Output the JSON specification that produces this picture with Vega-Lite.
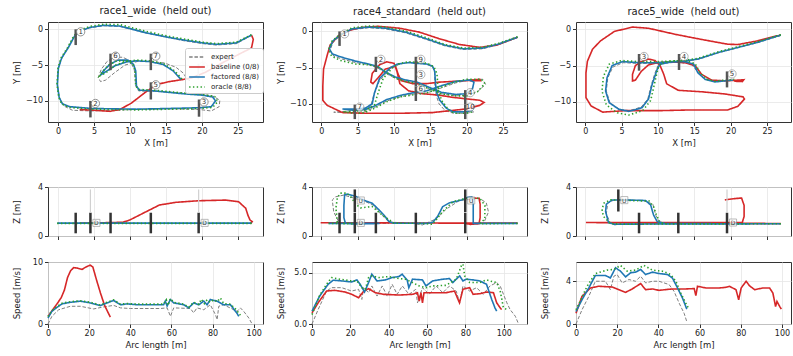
{
"$schema":"https://vega.github.io/schema/vega-lite/v6.json",
"padding":{"left":11,"top":5,"right":4,"bottom":4},
"config":{"font":"DejaVu Sans","view":{"stroke":"#333","strokeWidth":1},
"axis":{"domain":false,"grid":true,"gridColor":"#e6e6e6","gridWidth":0.8,"tickColor":"#333","tickSize":3.5,"labelFontSize":8,"labelColor":"#222","titleFontSize":8.5,"titleFontWeight":"normal","titleColor":"#222","labelFlush":false,"labelPadding":2,"titlePadding":3},
"axisY":{"minExtent":24,"maxExtent":24},
"title":{"fontSize":10,"fontWeight":"normal","offset":5,"color":"#222"},
"legend":{"labelFontSize":7,"symbolSize":110,"symbolOffset":3,"labelOffset":8,"symbolStrokeWidth":1.5,"rowPadding":1,"padding":3,"fillColor":"rgba(255,255,255,0.85)","strokeColor":"#cccccc","cornerRadius":2,"labelLimit":200,"labelColor":"#222"}},
"datasets":{
"xy":[
{"r":"race1","m":"expert","i":1,"x":26.9,"y":-0.85},{"r":"race1","m":"expert","i":2,"x":24.8,"y":-2.0},{"r":"race1","m":"expert","i":3,"x":22,"y":-2.2},{"r":"race1","m":"expert","i":4,"x":20.1,"y":-2.0},{"r":"race1","m":"expert","i":5,"x":17.5,"y":-1.6},{"r":"race1","m":"expert","i":6,"x":15.5,"y":-1.2},{"r":"race1","m":"expert","i":7,"x":12.3,"y":-0.55},{"r":"race1","m":"expert","i":8,"x":10,"y":0.05},{"r":"race1","m":"expert","i":9,"x":8.6,"y":0.4},{"r":"race1","m":"expert","i":10,"x":6.3,"y":0.5},{"r":"race1","m":"expert","i":11,"x":4.4,"y":0.2},{"r":"race1","m":"expert","i":12,"x":3.0,"y":-0.35},{"r":"race1","m":"expert","i":13,"x":2.2,"y":-1.1},{"r":"race1","m":"expert","i":14,"x":1.2,"y":-2.8},{"r":"race1","m":"expert","i":15,"x":0.4,"y":-4.3},{"r":"race1","m":"expert","i":16,"x":0.0,"y":-5.6},{"r":"race1","m":"expert","i":17,"x":-0.1,"y":-7.8},{"r":"race1","m":"expert","i":18,"x":0.2,"y":-9.6},{"r":"race1","m":"expert","i":19,"x":0.8,"y":-10.7},{"r":"race1","m":"expert","i":20,"x":2.0,"y":-11.3},{"r":"race1","m":"expert","i":21,"x":4.6,"y":-11.4},{"r":"race1","m":"expert","i":22,"x":7.5,"y":-11.3},{"r":"race1","m":"expert","i":23,"x":10.9,"y":-11.2},{"r":"race1","m":"expert","i":24,"x":15.5,"y":-11.1},{"r":"race1","m":"expert","i":25,"x":19.7,"y":-11.2},{"r":"race1","m":"expert","i":26,"x":21.3,"y":-11.4},{"r":"race1","m":"expert","i":27,"x":22.4,"y":-10.8},{"r":"race1","m":"expert","i":28,"x":22.5,"y":-9.9},{"r":"race1","m":"expert","i":29,"x":21.5,"y":-9.3},{"r":"race1","m":"expert","i":30,"x":20.1,"y":-9.1},{"r":"race1","m":"expert","i":31,"x":17.4,"y":-8.9},{"r":"race1","m":"expert","i":32,"x":13.4,"y":-8.65},{"r":"race1","m":"expert","i":33,"x":11.2,"y":-8.6},{"r":"race1","m":"expert","i":34,"x":10.8,"y":-7.9},{"r":"race1","m":"expert","i":35,"x":10.6,"y":-5.6},{"r":"race1","m":"expert","i":36,"x":10.0,"y":-4.4},{"r":"race1","m":"expert","i":37,"x":9.0,"y":-3.9},{"r":"race1","m":"expert","i":38,"x":7.8,"y":-3.9},{"r":"race1","m":"expert","i":39,"x":6.8,"y":-4.5},{"r":"race1","m":"expert","i":40,"x":6.0,"y":-5.6},{"r":"race1","m":"expert","i":41,"x":5.6,"y":-6.7},{"r":"race1","m":"expert","i":42,"x":5.9,"y":-7.3},{"r":"race1","m":"expert","i":43,"x":6.6,"y":-7.1},{"r":"race1","m":"expert","i":44,"x":7.8,"y":-6.1},{"r":"race1","m":"expert","i":45,"x":9.3,"y":-5.0},{"r":"race1","m":"expert","i":46,"x":11.0,"y":-4.5},{"r":"race1","m":"expert","i":47,"x":12.8,"y":-4.5},{"r":"race1","m":"expert","i":48,"x":14.8,"y":-4.7},{"r":"race1","m":"expert","i":49,"x":16.4,"y":-5.3},{"r":"race1","m":"expert","i":50,"x":17.4,"y":-6.1},{"r":"race1","m":"expert","i":51,"x":17.9,"y":-6.9},{"r":"race1","m":"expert","i":52,"x":18.5,"y":-7.3},
{"r":"race1","m":"baseline (0/8)","i":1,"x":26.9,"y":-0.8},{"r":"race1","m":"baseline (0/8)","i":2,"x":27.15,"y":-1.4},{"r":"race1","m":"baseline (0/8)","i":3,"x":26.9,"y":-2.6},{"r":"race1","m":"baseline (0/8)","i":4,"x":25.5,"y":-3.3},{"r":"race1","m":"baseline (0/8)","i":5,"x":23,"y":-4.6},{"r":"race1","m":"baseline (0/8)","i":6,"x":20.5,"y":-6.0},{"r":"race1","m":"baseline (0/8)","i":7,"x":18.5,"y":-6.8},{"r":"race1","m":"baseline (0/8)","i":8,"x":17.4,"y":-7.0},{"r":"race1","m":"baseline (0/8)","i":9,"x":15.5,"y":-7.3},{"r":"race1","m":"baseline (0/8)","i":10,"x":13.7,"y":-7.7},{"r":"race1","m":"baseline (0/8)","i":11,"x":12.0,"y":-8.9},{"r":"race1","m":"baseline (0/8)","i":12,"x":10.2,"y":-10.3},{"r":"race1","m":"baseline (0/8)","i":13,"x":8.6,"y":-11.2},{"r":"race1","m":"baseline (0/8)","i":14,"x":7.2,"y":-11.45},{"r":"race1","m":"baseline (0/8)","i":15,"x":5.0,"y":-11.3},{"r":"race1","m":"baseline (0/8)","i":16,"x":3.0,"y":-11.2},
{"r":"race1","m":"factored (8/8)","i":1,"x":26.9,"y":-0.8},{"r":"race1","m":"factored (8/8)","i":2,"x":24.8,"y":-1.9},{"r":"race1","m":"factored (8/8)","i":3,"x":22.0,"y":-2.1},{"r":"race1","m":"factored (8/8)","i":4,"x":20.1,"y":-1.9},{"r":"race1","m":"factored (8/8)","i":5,"x":17.5,"y":-1.5},{"r":"race1","m":"factored (8/8)","i":6,"x":15.5,"y":-1.15},{"r":"race1","m":"factored (8/8)","i":7,"x":12.3,"y":-0.5},{"r":"race1","m":"factored (8/8)","i":8,"x":10.0,"y":0.1},{"r":"race1","m":"factored (8/8)","i":9,"x":8.6,"y":0.45},{"r":"race1","m":"factored (8/8)","i":10,"x":6.3,"y":0.55},{"r":"race1","m":"factored (8/8)","i":11,"x":4.4,"y":0.25},{"r":"race1","m":"factored (8/8)","i":12,"x":3.0,"y":-0.25},{"r":"race1","m":"factored (8/8)","i":13,"x":2.3,"y":-0.95},{"r":"race1","m":"factored (8/8)","i":14,"x":1.4,"y":-2.6},{"r":"race1","m":"factored (8/8)","i":15,"x":0.5,"y":-4.0},{"r":"race1","m":"factored (8/8)","i":16,"x":0.05,"y":-5.4},{"r":"race1","m":"factored (8/8)","i":17,"x":-0.1,"y":-7.7},{"r":"race1","m":"factored (8/8)","i":18,"x":0.15,"y":-9.5},{"r":"race1","m":"factored (8/8)","i":19,"x":0.6,"y":-10.4},{"r":"race1","m":"factored (8/8)","i":20,"x":1.6,"y":-10.8},{"r":"race1","m":"factored (8/8)","i":21,"x":4.6,"y":-11.05},{"r":"race1","m":"factored (8/8)","i":22,"x":7.5,"y":-11.1},{"r":"race1","m":"factored (8/8)","i":23,"x":10.9,"y":-11.15},{"r":"race1","m":"factored (8/8)","i":24,"x":15.5,"y":-11.05},{"r":"race1","m":"factored (8/8)","i":25,"x":19.7,"y":-10.95},{"r":"race1","m":"factored (8/8)","i":26,"x":21.3,"y":-10.8},{"r":"race1","m":"factored (8/8)","i":27,"x":21.9,"y":-10.0},{"r":"race1","m":"factored (8/8)","i":28,"x":21.5,"y":-9.45},{"r":"race1","m":"factored (8/8)","i":29,"x":20.1,"y":-9.2},{"r":"race1","m":"factored (8/8)","i":30,"x":17.4,"y":-9.0},{"r":"race1","m":"factored (8/8)","i":31,"x":13.4,"y":-8.6},{"r":"race1","m":"factored (8/8)","i":32,"x":11.3,"y":-8.5},{"r":"race1","m":"factored (8/8)","i":33,"x":10.9,"y":-7.9},{"r":"race1","m":"factored (8/8)","i":34,"x":10.8,"y":-5.8},{"r":"race1","m":"factored (8/8)","i":35,"x":10.5,"y":-4.9},{"r":"race1","m":"factored (8/8)","i":36,"x":9.7,"y":-4.3},{"r":"race1","m":"factored (8/8)","i":37,"x":8.3,"y":-4.3},{"r":"race1","m":"factored (8/8)","i":38,"x":7.2,"y":-4.9},{"r":"race1","m":"factored (8/8)","i":39,"x":6.3,"y":-5.8},{"r":"race1","m":"factored (8/8)","i":40,"x":5.9,"y":-6.4},{"r":"race1","m":"factored (8/8)","i":41,"x":6.5,"y":-6.0},{"r":"race1","m":"factored (8/8)","i":42,"x":7.9,"y":-5.1},{"r":"race1","m":"factored (8/8)","i":43,"x":9.5,"y":-4.55},{"r":"race1","m":"factored (8/8)","i":44,"x":10.9,"y":-4.4},{"r":"race1","m":"factored (8/8)","i":45,"x":12.7,"y":-4.5},{"r":"race1","m":"factored (8/8)","i":46,"x":14.6,"y":-4.9},{"r":"race1","m":"factored (8/8)","i":47,"x":16.0,"y":-5.8},{"r":"race1","m":"factored (8/8)","i":48,"x":17.1,"y":-7.0},
{"r":"race1","m":"oracle (8/8)","i":1,"x":26.9,"y":-0.75},{"r":"race1","m":"oracle (8/8)","i":2,"x":24.8,"y":-1.8},{"r":"race1","m":"oracle (8/8)","i":3,"x":22,"y":-2.0},{"r":"race1","m":"oracle (8/8)","i":4,"x":20.1,"y":-1.8},{"r":"race1","m":"oracle (8/8)","i":5,"x":17.5,"y":-1.35},{"r":"race1","m":"oracle (8/8)","i":6,"x":15.5,"y":-1.0},{"r":"race1","m":"oracle (8/8)","i":7,"x":12.3,"y":-0.3},{"r":"race1","m":"oracle (8/8)","i":8,"x":10,"y":0.3},{"r":"race1","m":"oracle (8/8)","i":9,"x":8.6,"y":0.65},{"r":"race1","m":"oracle (8/8)","i":10,"x":6.3,"y":0.7},{"r":"race1","m":"oracle (8/8)","i":11,"x":4.4,"y":0.4},{"r":"race1","m":"oracle (8/8)","i":12,"x":3.0,"y":-0.1},{"r":"race1","m":"oracle (8/8)","i":13,"x":2.2,"y":-0.9},{"r":"race1","m":"oracle (8/8)","i":14,"x":1.3,"y":-2.6},{"r":"race1","m":"oracle (8/8)","i":15,"x":0.4,"y":-4.0},{"r":"race1","m":"oracle (8/8)","i":16,"x":0.0,"y":-5.4},{"r":"race1","m":"oracle (8/8)","i":17,"x":-0.15,"y":-7.7},{"r":"race1","m":"oracle (8/8)","i":18,"x":0.1,"y":-9.5},{"r":"race1","m":"oracle (8/8)","i":19,"x":0.5,"y":-10.4},{"r":"race1","m":"oracle (8/8)","i":20,"x":1.5,"y":-10.9},{"r":"race1","m":"oracle (8/8)","i":21,"x":4.6,"y":-11.15},{"r":"race1","m":"oracle (8/8)","i":22,"x":7.5,"y":-11.2},{"r":"race1","m":"oracle (8/8)","i":23,"x":10.9,"y":-11.25},{"r":"race1","m":"oracle (8/8)","i":24,"x":15.5,"y":-11.15},{"r":"race1","m":"oracle (8/8)","i":25,"x":19.7,"y":-11.05},{"r":"race1","m":"oracle (8/8)","i":26,"x":21.5,"y":-10.9},{"r":"race1","m":"oracle (8/8)","i":27,"x":22.2,"y":-10.1},{"r":"race1","m":"oracle (8/8)","i":28,"x":21.8,"y":-9.4},{"r":"race1","m":"oracle (8/8)","i":29,"x":20.1,"y":-9.1},{"r":"race1","m":"oracle (8/8)","i":30,"x":17.4,"y":-8.9},{"r":"race1","m":"oracle (8/8)","i":31,"x":13.4,"y":-8.5},{"r":"race1","m":"oracle (8/8)","i":32,"x":11.2,"y":-8.4},{"r":"race1","m":"oracle (8/8)","i":33,"x":10.8,"y":-7.9},{"r":"race1","m":"oracle (8/8)","i":34,"x":10.7,"y":-5.8},{"r":"race1","m":"oracle (8/8)","i":35,"x":10.4,"y":-4.8},{"r":"race1","m":"oracle (8/8)","i":36,"x":9.6,"y":-4.4},{"r":"race1","m":"oracle (8/8)","i":37,"x":8.2,"y":-4.4},{"r":"race1","m":"oracle (8/8)","i":38,"x":7.0,"y":-5.0},{"r":"race1","m":"oracle (8/8)","i":39,"x":6.2,"y":-5.9},{"r":"race1","m":"oracle (8/8)","i":40,"x":5.8,"y":-6.5},{"r":"race1","m":"oracle (8/8)","i":41,"x":6.6,"y":-6.1},{"r":"race1","m":"oracle (8/8)","i":42,"x":8.0,"y":-5.0},{"r":"race1","m":"oracle (8/8)","i":43,"x":9.6,"y":-4.45},{"r":"race1","m":"oracle (8/8)","i":44,"x":11.0,"y":-4.3},{"r":"race1","m":"oracle (8/8)","i":45,"x":12.8,"y":-4.4},{"r":"race1","m":"oracle (8/8)","i":46,"x":14.7,"y":-4.8},{"r":"race1","m":"oracle (8/8)","i":47,"x":16.2,"y":-5.8},{"r":"race1","m":"oracle (8/8)","i":48,"x":17.3,"y":-7.0},
{"r":"race4","m":"expert","i":1,"x":27,"y":-0.85},{"r":"race4","m":"expert","i":2,"x":24.5,"y":-1.8},{"r":"race4","m":"expert","i":3,"x":22.2,"y":-2.4},{"r":"race4","m":"expert","i":4,"x":19.5,"y":-2.5},{"r":"race4","m":"expert","i":5,"x":17,"y":-2.0},{"r":"race4","m":"expert","i":6,"x":14.4,"y":-1.1},{"r":"race4","m":"expert","i":7,"x":11.6,"y":-0.2},{"r":"race4","m":"expert","i":8,"x":8.8,"y":0.35},{"r":"race4","m":"expert","i":9,"x":6.5,"y":0.5},{"r":"race4","m":"expert","i":10,"x":4.2,"y":0.25},{"r":"race4","m":"expert","i":11,"x":2.6,"y":-0.6},{"r":"race4","m":"expert","i":12,"x":1.6,"y":-1.5},{"r":"race4","m":"expert","i":13,"x":1.2,"y":-2.6},{"r":"race4","m":"expert","i":14,"x":1.7,"y":-3.4},{"r":"race4","m":"expert","i":15,"x":2.8,"y":-3.8},{"r":"race4","m":"expert","i":16,"x":4.7,"y":-4.3},{"r":"race4","m":"expert","i":17,"x":6.5,"y":-4.6},{"r":"race4","m":"expert","i":18,"x":7.7,"y":-5.0},{"r":"race4","m":"expert","i":19,"x":8.9,"y":-5.8},{"r":"race4","m":"expert","i":20,"x":10.2,"y":-6.5},{"r":"race4","m":"expert","i":21,"x":11.6,"y":-6.9},{"r":"race4","m":"expert","i":22,"x":13.2,"y":-7.2},{"r":"race4","m":"expert","i":23,"x":14.8,"y":-7.9},{"r":"race4","m":"expert","i":24,"x":16.5,"y":-8.6},{"r":"race4","m":"expert","i":25,"x":18.5,"y":-8.9},{"r":"race4","m":"expert","i":26,"x":19.9,"y":-8.8},{"r":"race4","m":"expert","i":27,"x":21.5,"y":-8.3},{"r":"race4","m":"expert","i":28,"x":22.6,"y":-7.3},{"r":"race4","m":"expert","i":29,"x":22.2,"y":-6.6},{"r":"race4","m":"expert","i":30,"x":20.3,"y":-6.7},{"r":"race4","m":"expert","i":31,"x":18.5,"y":-7.1},{"r":"race4","m":"expert","i":32,"x":16.5,"y":-7.8},{"r":"race4","m":"expert","i":33,"x":14.5,"y":-8.5},{"r":"race4","m":"expert","i":34,"x":13.0,"y":-8.6},{"r":"race4","m":"expert","i":35,"x":11,"y":-9.0},{"r":"race4","m":"expert","i":36,"x":9,"y":-9.6},{"r":"race4","m":"expert","i":37,"x":7.3,"y":-10.5},{"r":"race4","m":"expert","i":38,"x":5.5,"y":-11.3},{"r":"race4","m":"expert","i":39,"x":3.5,"y":-11.2},{"r":"race4","m":"expert","i":40,"x":1.7,"y":-11.15},{"r":"race4","m":"expert","i":41,"x":3.5,"y":-11.0},{"r":"race4","m":"expert","i":42,"x":5.5,"y":-10.9},{"r":"race4","m":"expert","i":43,"x":6.8,"y":-10.3},{"r":"race4","m":"expert","i":44,"x":7.2,"y":-8.8},{"r":"race4","m":"expert","i":45,"x":8.0,"y":-6.8},{"r":"race4","m":"expert","i":46,"x":9.4,"y":-5.2},{"r":"race4","m":"expert","i":47,"x":10.8,"y":-4.5},{"r":"race4","m":"expert","i":48,"x":12.2,"y":-4.25},{"r":"race4","m":"expert","i":49,"x":13.2,"y":-4.3},{"r":"race4","m":"expert","i":50,"x":14.5,"y":-4.5},{"r":"race4","m":"expert","i":51,"x":15.4,"y":-5.0},{"r":"race4","m":"expert","i":52,"x":15.6,"y":-5.8},{"r":"race4","m":"expert","i":53,"x":15.6,"y":-7.2},{"r":"race4","m":"expert","i":54,"x":15.8,"y":-8.8},{"r":"race4","m":"expert","i":55,"x":16.2,"y":-10.0},{"r":"race4","m":"expert","i":56,"x":17.0,"y":-10.9},{"r":"race4","m":"expert","i":57,"x":18.2,"y":-11.3},{"r":"race4","m":"expert","i":58,"x":19.9,"y":-11.3},{"r":"race4","m":"expert","i":59,"x":21.0,"y":-11.1},
{"r":"race4","m":"baseline (0/8)","i":1,"x":27,"y":-0.8},{"r":"race4","m":"baseline (0/8)","i":2,"x":24.1,"y":-1.9},{"r":"race4","m":"baseline (0/8)","i":3,"x":21.8,"y":-2.2},{"r":"race4","m":"baseline (0/8)","i":4,"x":19,"y":-1.8},{"r":"race4","m":"baseline (0/8)","i":5,"x":16.2,"y":-1.0},{"r":"race4","m":"baseline (0/8)","i":6,"x":13.5,"y":-0.1},{"r":"race4","m":"baseline (0/8)","i":7,"x":10.7,"y":0.45},{"r":"race4","m":"baseline (0/8)","i":8,"x":7.9,"y":0.7},{"r":"race4","m":"baseline (0/8)","i":9,"x":5.5,"y":0.55},{"r":"race4","m":"baseline (0/8)","i":10,"x":3.8,"y":0.14},{"r":"race4","m":"baseline (0/8)","i":11,"x":2.4,"y":-0.55},{"r":"race4","m":"baseline (0/8)","i":12,"x":1.2,"y":-1.9},{"r":"race4","m":"baseline (0/8)","i":13,"x":0.8,"y":-3.3},{"r":"race4","m":"baseline (0/8)","i":14,"x":0.3,"y":-5.2},{"r":"race4","m":"baseline (0/8)","i":15,"x":0.2,"y":-7.5},{"r":"race4","m":"baseline (0/8)","i":16,"x":0.2,"y":-9.5},{"r":"race4","m":"baseline (0/8)","i":17,"x":0.8,"y":-10.2},{"r":"race4","m":"baseline (0/8)","i":18,"x":2.9,"y":-11.2},{"r":"race4","m":"baseline (0/8)","i":19,"x":6.1,"y":-11.3},{"r":"race4","m":"baseline (0/8)","i":20,"x":10.7,"y":-11.3},{"r":"race4","m":"baseline (0/8)","i":21,"x":15.3,"y":-11.2},{"r":"race4","m":"baseline (0/8)","i":22,"x":19.9,"y":-10.7},{"r":"race4","m":"baseline (0/8)","i":23,"x":21.8,"y":-10.2},{"r":"race4","m":"baseline (0/8)","i":24,"x":22.4,"y":-9.8},{"r":"race4","m":"baseline (0/8)","i":25,"x":21.8,"y":-9.5},{"r":"race4","m":"baseline (0/8)","i":26,"x":19.9,"y":-9.3},{"r":"race4","m":"baseline (0/8)","i":27,"x":18.1,"y":-9.1},{"r":"race4","m":"baseline (0/8)","i":28,"x":16.2,"y":-8.8},{"r":"race4","m":"baseline (0/8)","i":29,"x":14,"y":-8.6},{"r":"race4","m":"baseline (0/8)","i":30,"x":12,"y":-8.2},{"r":"race4","m":"baseline (0/8)","i":31,"x":10.8,"y":-7.2},{"r":"race4","m":"baseline (0/8)","i":32,"x":10.4,"y":-5.5},{"r":"race4","m":"baseline (0/8)","i":33,"x":10.0,"y":-4.4},{"r":"race4","m":"baseline (0/8)","i":34,"x":9.0,"y":-4.2},{"r":"race4","m":"baseline (0/8)","i":35,"x":8.0,"y":-4.6},{"r":"race4","m":"baseline (0/8)","i":36,"x":7.0,"y":-5.8},{"r":"race4","m":"baseline (0/8)","i":37,"x":6.8,"y":-7.0},{"r":"race4","m":"baseline (0/8)","i":38,"x":7.1,"y":-7.2},{"r":"race4","m":"baseline (0/8)","i":39,"x":7.8,"y":-6.4},{"r":"race4","m":"baseline (0/8)","i":40,"x":8.8,"y":-5.2},{"r":"race4","m":"baseline (0/8)","i":41,"x":10.2,"y":-4.8},{"r":"race4","m":"baseline (0/8)","i":42,"x":10.6,"y":-6},{"r":"race4","m":"baseline (0/8)","i":43,"x":11,"y":-6.8},{"r":"race4","m":"baseline (0/8)","i":44,"x":12.5,"y":-7.2},{"r":"race4","m":"baseline (0/8)","i":45,"x":14.5,"y":-7.2},{"r":"race4","m":"baseline (0/8)","i":46,"x":16.2,"y":-7.0},{"r":"race4","m":"baseline (0/8)","i":47,"x":18.1,"y":-6.9},{"r":"race4","m":"baseline (0/8)","i":48,"x":19.9,"y":-6.8},{"r":"race4","m":"baseline (0/8)","i":49,"x":21.8,"y":-6.6},{"r":"race4","m":"baseline (0/8)","i":50,"x":21.9,"y":-6.8},{"r":"race4","m":"baseline (0/8)","i":51,"x":20.4,"y":-6.8},
{"r":"race4","m":"factored (8/8)","i":1,"x":27,"y":-0.8},{"r":"race4","m":"factored (8/8)","i":2,"x":24.5,"y":-1.7},{"r":"race4","m":"factored (8/8)","i":3,"x":22.2,"y":-2.3},{"r":"race4","m":"factored (8/8)","i":4,"x":19.5,"y":-2.4},{"r":"race4","m":"factored (8/8)","i":5,"x":17,"y":-1.9},{"r":"race4","m":"factored (8/8)","i":6,"x":14.4,"y":-1.0},{"r":"race4","m":"factored (8/8)","i":7,"x":11.6,"y":-0.1},{"r":"race4","m":"factored (8/8)","i":8,"x":8.8,"y":0.45},{"r":"race4","m":"factored (8/8)","i":9,"x":6.5,"y":0.6},{"r":"race4","m":"factored (8/8)","i":10,"x":4.2,"y":0.35},{"r":"race4","m":"factored (8/8)","i":11,"x":2.6,"y":-0.5},{"r":"race4","m":"factored (8/8)","i":12,"x":1.6,"y":-1.3},{"r":"race4","m":"factored (8/8)","i":13,"x":1.1,"y":-2.4},{"r":"race4","m":"factored (8/8)","i":14,"x":1.5,"y":-3.1},{"r":"race4","m":"factored (8/8)","i":15,"x":2.6,"y":-3.5},{"r":"race4","m":"factored (8/8)","i":16,"x":4.7,"y":-4.1},{"r":"race4","m":"factored (8/8)","i":17,"x":6.5,"y":-4.5},{"r":"race4","m":"factored (8/8)","i":18,"x":7.7,"y":-4.8},{"r":"race4","m":"factored (8/8)","i":19,"x":8.8,"y":-5.6},{"r":"race4","m":"factored (8/8)","i":20,"x":10.2,"y":-6.3},{"r":"race4","m":"factored (8/8)","i":21,"x":11.6,"y":-6.7},{"r":"race4","m":"factored (8/8)","i":22,"x":13.2,"y":-7.0},{"r":"race4","m":"factored (8/8)","i":23,"x":14.8,"y":-7.7},{"r":"race4","m":"factored (8/8)","i":24,"x":16.5,"y":-8.4},{"r":"race4","m":"factored (8/8)","i":25,"x":18.5,"y":-8.7},{"r":"race4","m":"factored (8/8)","i":26,"x":19.9,"y":-8.6},{"r":"race4","m":"factored (8/8)","i":27,"x":20.8,"y":-7.9},{"r":"race4","m":"factored (8/8)","i":28,"x":21.0,"y":-7.0},{"r":"race4","m":"factored (8/8)","i":29,"x":20.4,"y":-6.7},{"r":"race4","m":"factored (8/8)","i":30,"x":18.5,"y":-6.9},{"r":"race4","m":"factored (8/8)","i":31,"x":16.5,"y":-7.5},{"r":"race4","m":"factored (8/8)","i":32,"x":14.5,"y":-8.2},{"r":"race4","m":"factored (8/8)","i":33,"x":13.0,"y":-8.4},{"r":"race4","m":"factored (8/8)","i":34,"x":11,"y":-8.8},{"r":"race4","m":"factored (8/8)","i":35,"x":9,"y":-9.4},{"r":"race4","m":"factored (8/8)","i":36,"x":7.3,"y":-10.3},{"r":"race4","m":"factored (8/8)","i":37,"x":6,"y":-10.8},{"r":"race4","m":"factored (8/8)","i":38,"x":4.6,"y":-10.9},{"r":"race4","m":"factored (8/8)","i":39,"x":2.9,"y":-10.7},{"r":"race4","m":"factored (8/8)","i":40,"x":4.6,"y":-10.7},{"r":"race4","m":"factored (8/8)","i":41,"x":6,"y":-10.6},{"r":"race4","m":"factored (8/8)","i":42,"x":7,"y":-10},{"r":"race4","m":"factored (8/8)","i":43,"x":7.3,"y":-8.5},{"r":"race4","m":"factored (8/8)","i":44,"x":8.0,"y":-6.5},{"r":"race4","m":"factored (8/8)","i":45,"x":9.5,"y":-5},{"r":"race4","m":"factored (8/8)","i":46,"x":10.5,"y":-4.5},{"r":"race4","m":"factored (8/8)","i":47,"x":12,"y":-4.3},{"r":"race4","m":"factored (8/8)","i":48,"x":13,"y":-4.4},{"r":"race4","m":"factored (8/8)","i":49,"x":14.5,"y":-4.5},{"r":"race4","m":"factored (8/8)","i":50,"x":15.3,"y":-4.8},{"r":"race4","m":"factored (8/8)","i":51,"x":15.6,"y":-5.5},{"r":"race4","m":"factored (8/8)","i":52,"x":15.7,"y":-7},{"r":"race4","m":"factored (8/8)","i":53,"x":15.8,"y":-8.3},{"r":"race4","m":"factored (8/8)","i":54,"x":16.3,"y":-9.5},{"r":"race4","m":"factored (8/8)","i":55,"x":17.2,"y":-10.6},{"r":"race4","m":"factored (8/8)","i":56,"x":18.1,"y":-11.1},{"r":"race4","m":"factored (8/8)","i":57,"x":19.9,"y":-11.1},{"r":"race4","m":"factored (8/8)","i":58,"x":20.8,"y":-10.9},
{"r":"race4","m":"oracle (8/8)","i":1,"x":27,"y":-0.75},{"r":"race4","m":"oracle (8/8)","i":2,"x":24.5,"y":-1.6},{"r":"race4","m":"oracle (8/8)","i":3,"x":22.2,"y":-2.2},{"r":"race4","m":"oracle (8/8)","i":4,"x":19.5,"y":-2.3},{"r":"race4","m":"oracle (8/8)","i":5,"x":17,"y":-1.8},{"r":"race4","m":"oracle (8/8)","i":6,"x":14.4,"y":-0.85},{"r":"race4","m":"oracle (8/8)","i":7,"x":11.6,"y":0.05},{"r":"race4","m":"oracle (8/8)","i":8,"x":8.8,"y":0.6},{"r":"race4","m":"oracle (8/8)","i":9,"x":6.5,"y":0.75},{"r":"race4","m":"oracle (8/8)","i":10,"x":4.2,"y":0.5},{"r":"race4","m":"oracle (8/8)","i":11,"x":2.6,"y":-0.4},{"r":"race4","m":"oracle (8/8)","i":12,"x":1.5,"y":-1.3},{"r":"race4","m":"oracle (8/8)","i":13,"x":1.0,"y":-2.5},{"r":"race4","m":"oracle (8/8)","i":14,"x":1.4,"y":-3.4},{"r":"race4","m":"oracle (8/8)","i":15,"x":2.6,"y":-4.0},{"r":"race4","m":"oracle (8/8)","i":16,"x":4.7,"y":-4.5},{"r":"race4","m":"oracle (8/8)","i":17,"x":6.5,"y":-4.6},{"r":"race4","m":"oracle (8/8)","i":18,"x":7.8,"y":-4.9},{"r":"race4","m":"oracle (8/8)","i":19,"x":9.0,"y":-5.7},{"r":"race4","m":"oracle (8/8)","i":20,"x":10.3,"y":-6.5},{"r":"race4","m":"oracle (8/8)","i":21,"x":11.6,"y":-6.9},{"r":"race4","m":"oracle (8/8)","i":22,"x":13.2,"y":-7.2},{"r":"race4","m":"oracle (8/8)","i":23,"x":14.8,"y":-7.9},{"r":"race4","m":"oracle (8/8)","i":24,"x":16.5,"y":-8.6},{"r":"race4","m":"oracle (8/8)","i":25,"x":18.5,"y":-8.9},{"r":"race4","m":"oracle (8/8)","i":26,"x":20.0,"y":-8.9},{"r":"race4","m":"oracle (8/8)","i":27,"x":21.5,"y":-8.3},{"r":"race4","m":"oracle (8/8)","i":28,"x":22.5,"y":-7.2},{"r":"race4","m":"oracle (8/8)","i":29,"x":22.0,"y":-6.6},{"r":"race4","m":"oracle (8/8)","i":30,"x":20,"y":-6.6},{"r":"race4","m":"oracle (8/8)","i":31,"x":18.3,"y":-7.0},{"r":"race4","m":"oracle (8/8)","i":32,"x":16.5,"y":-7.7},{"r":"race4","m":"oracle (8/8)","i":33,"x":14.5,"y":-8.5},{"r":"race4","m":"oracle (8/8)","i":34,"x":13.0,"y":-8.7},{"r":"race4","m":"oracle (8/8)","i":35,"x":11,"y":-9.0},{"r":"race4","m":"oracle (8/8)","i":36,"x":9,"y":-9.7},{"r":"race4","m":"oracle (8/8)","i":37,"x":7.3,"y":-10.6},{"r":"race4","m":"oracle (8/8)","i":38,"x":6,"y":-11.2},{"r":"race4","m":"oracle (8/8)","i":39,"x":4.6,"y":-11.3},{"r":"race4","m":"oracle (8/8)","i":40,"x":3.0,"y":-11.1},{"r":"race4","m":"oracle (8/8)","i":41,"x":4.6,"y":-11.0},{"r":"race4","m":"oracle (8/8)","i":42,"x":6,"y":-10.9},{"r":"race4","m":"oracle (8/8)","i":43,"x":7.3,"y":-10.2},{"r":"race4","m":"oracle (8/8)","i":44,"x":7.8,"y":-8.5},{"r":"race4","m":"oracle (8/8)","i":45,"x":8.5,"y":-6.5},{"r":"race4","m":"oracle (8/8)","i":46,"x":9.8,"y":-5.0},{"r":"race4","m":"oracle (8/8)","i":47,"x":10.8,"y":-4.4},{"r":"race4","m":"oracle (8/8)","i":48,"x":12,"y":-4.2},{"r":"race4","m":"oracle (8/8)","i":49,"x":13,"y":-4.25},{"r":"race4","m":"oracle (8/8)","i":50,"x":14.6,"y":-4.4},{"r":"race4","m":"oracle (8/8)","i":51,"x":15.5,"y":-4.9},{"r":"race4","m":"oracle (8/8)","i":52,"x":15.9,"y":-5.8},{"r":"race4","m":"oracle (8/8)","i":53,"x":16.0,"y":-7},{"r":"race4","m":"oracle (8/8)","i":54,"x":16.1,"y":-8.3},{"r":"race4","m":"oracle (8/8)","i":55,"x":16.6,"y":-9.6},{"r":"race4","m":"oracle (8/8)","i":56,"x":17.5,"y":-10.8},{"r":"race4","m":"oracle (8/8)","i":57,"x":18.3,"y":-11.3},{"r":"race4","m":"oracle (8/8)","i":58,"x":19.9,"y":-11.3},{"r":"race4","m":"oracle (8/8)","i":59,"x":20.8,"y":-11.1},
{"r":"race5","m":"expert","i":1,"x":26.9,"y":-0.85},{"r":"race5","m":"expert","i":2,"x":23.7,"y":-1.85},{"r":"race5","m":"expert","i":3,"x":21,"y":-2.55},{"r":"race5","m":"expert","i":4,"x":18.3,"y":-3.25},{"r":"race5","m":"expert","i":5,"x":15.5,"y":-4.15},{"r":"race5","m":"expert","i":6,"x":13.3,"y":-4.5},{"r":"race5","m":"expert","i":7,"x":10.1,"y":-4.7},{"r":"race5","m":"expert","i":8,"x":7.4,"y":-4.7},{"r":"race5","m":"expert","i":9,"x":5.2,"y":-4.6},{"r":"race5","m":"expert","i":10,"x":3.8,"y":-5.2},{"r":"race5","m":"expert","i":11,"x":3.1,"y":-6.7},{"r":"race5","m":"expert","i":12,"x":2.9,"y":-8.5},{"r":"race5","m":"expert","i":13,"x":3.4,"y":-10.1},{"r":"race5","m":"expert","i":14,"x":4.7,"y":-11.0},{"r":"race5","m":"expert","i":15,"x":6.1,"y":-11.2},{"r":"race5","m":"expert","i":16,"x":7.7,"y":-10.7},{"r":"race5","m":"expert","i":17,"x":8.6,"y":-9.6},{"r":"race5","m":"expert","i":18,"x":9.1,"y":-7.6},{"r":"race5","m":"expert","i":19,"x":9.6,"y":-6.0},{"r":"race5","m":"expert","i":20,"x":10.0,"y":-5.0},{"r":"race5","m":"expert","i":21,"x":11,"y":-4.6},{"r":"race5","m":"expert","i":22,"x":12.9,"y":-4.55},{"r":"race5","m":"expert","i":23,"x":14.6,"y":-4.8},{"r":"race5","m":"expert","i":24,"x":15.4,"y":-5.8},{"r":"race5","m":"expert","i":25,"x":16.3,"y":-6.7},{"r":"race5","m":"expert","i":26,"x":17.6,"y":-7.1},{"r":"race5","m":"expert","i":27,"x":19.0,"y":-7.0},
{"r":"race5","m":"baseline (0/8)","i":1,"x":26.9,"y":-0.8},{"r":"race5","m":"baseline (0/8)","i":2,"x":26.4,"y":-0.9},{"r":"race5","m":"baseline (0/8)","i":3,"x":23.7,"y":-1.6},{"r":"race5","m":"baseline (0/8)","i":4,"x":21,"y":-2.1},{"r":"race5","m":"baseline (0/8)","i":5,"x":19.6,"y":-2.06},{"r":"race5","m":"baseline (0/8)","i":6,"x":16,"y":-1.4},{"r":"race5","m":"baseline (0/8)","i":7,"x":12.4,"y":-0.7},{"r":"race5","m":"baseline (0/8)","i":8,"x":8.7,"y":0.14},{"r":"race5","m":"baseline (0/8)","i":9,"x":6.5,"y":0.3},{"r":"race5","m":"baseline (0/8)","i":10,"x":4.0,"y":-0.3},{"r":"race5","m":"baseline (0/8)","i":11,"x":2.1,"y":-1.6},{"r":"race5","m":"baseline (0/8)","i":12,"x":1.0,"y":-2.75},{"r":"race5","m":"baseline (0/8)","i":13,"x":0.3,"y":-4.4},{"r":"race5","m":"baseline (0/8)","i":14,"x":0.1,"y":-6.0},{"r":"race5","m":"baseline (0/8)","i":15,"x":0.1,"y":-9.4},{"r":"race5","m":"baseline (0/8)","i":16,"x":0.8,"y":-10.55},{"r":"race5","m":"baseline (0/8)","i":17,"x":2.4,"y":-11.4},{"r":"race5","m":"baseline (0/8)","i":18,"x":5.5,"y":-11.2},{"r":"race5","m":"baseline (0/8)","i":19,"x":10.1,"y":-11.2},{"r":"race5","m":"baseline (0/8)","i":20,"x":14.6,"y":-11.1},{"r":"race5","m":"baseline (0/8)","i":21,"x":19.6,"y":-11.1},{"r":"race5","m":"baseline (0/8)","i":22,"x":21,"y":-10.6},{"r":"race5","m":"baseline (0/8)","i":23,"x":21.9,"y":-9.6},{"r":"race5","m":"baseline (0/8)","i":24,"x":21.7,"y":-9.3},{"r":"race5","m":"baseline (0/8)","i":25,"x":19.2,"y":-8.9},{"r":"race5","m":"baseline (0/8)","i":26,"x":16,"y":-8.6},{"r":"race5","m":"baseline (0/8)","i":27,"x":12.8,"y":-8.4},{"r":"race5","m":"baseline (0/8)","i":28,"x":11.2,"y":-7.5},{"r":"race5","m":"baseline (0/8)","i":29,"x":10.8,"y":-6.2},{"r":"race5","m":"baseline (0/8)","i":30,"x":10.3,"y":-5.0},{"r":"race5","m":"baseline (0/8)","i":31,"x":9.6,"y":-4.3},{"r":"race5","m":"baseline (0/8)","i":32,"x":8.7,"y":-4.1},{"r":"race5","m":"baseline (0/8)","i":33,"x":7.6,"y":-4.5},{"r":"race5","m":"baseline (0/8)","i":34,"x":6.9,"y":-5.0},{"r":"race5","m":"baseline (0/8)","i":35,"x":6.5,"y":-6.2},{"r":"race5","m":"baseline (0/8)","i":36,"x":6.5,"y":-7.1},{"r":"race5","m":"baseline (0/8)","i":37,"x":6.9,"y":-7.0},{"r":"race5","m":"baseline (0/8)","i":38,"x":7.7,"y":-5.8},{"r":"race5","m":"baseline (0/8)","i":39,"x":8.7,"y":-4.9},{"r":"race5","m":"baseline (0/8)","i":40,"x":9.9,"y":-4.6},{"r":"race5","m":"baseline (0/8)","i":41,"x":11.9,"y":-4.5},{"r":"race5","m":"baseline (0/8)","i":42,"x":13.7,"y":-4.6},{"r":"race5","m":"baseline (0/8)","i":43,"x":15.1,"y":-5.0},{"r":"race5","m":"baseline (0/8)","i":44,"x":16,"y":-6.2},{"r":"race5","m":"baseline (0/8)","i":45,"x":17.4,"y":-7.0},{"r":"race5","m":"baseline (0/8)","i":46,"x":19.2,"y":-7.1},{"r":"race5","m":"baseline (0/8)","i":47,"x":21,"y":-7.0},{"r":"race5","m":"baseline (0/8)","i":48,"x":21.8,"y":-6.95},{"r":"race5","m":"baseline (0/8)","i":49,"x":21.6,"y":-7.2},{"r":"race5","m":"baseline (0/8)","i":50,"x":20.5,"y":-7.15},
{"r":"race5","m":"factored (8/8)","i":1,"x":26.9,"y":-0.8},{"r":"race5","m":"factored (8/8)","i":2,"x":23.7,"y":-1.8},{"r":"race5","m":"factored (8/8)","i":3,"x":21,"y":-2.5},{"r":"race5","m":"factored (8/8)","i":4,"x":18.3,"y":-3.2},{"r":"race5","m":"factored (8/8)","i":5,"x":15.5,"y":-4.1},{"r":"race5","m":"factored (8/8)","i":6,"x":13.3,"y":-4.4},{"r":"race5","m":"factored (8/8)","i":7,"x":10.1,"y":-4.6},{"r":"race5","m":"factored (8/8)","i":8,"x":7.4,"y":-4.6},{"r":"race5","m":"factored (8/8)","i":9,"x":5.1,"y":-4.45},{"r":"race5","m":"factored (8/8)","i":10,"x":3.7,"y":-5.0},{"r":"race5","m":"factored (8/8)","i":11,"x":3.0,"y":-6.65},{"r":"race5","m":"factored (8/8)","i":12,"x":2.8,"y":-8.5},{"r":"race5","m":"factored (8/8)","i":13,"x":3.3,"y":-10.1},{"r":"race5","m":"factored (8/8)","i":14,"x":4.6,"y":-11.0},{"r":"race5","m":"factored (8/8)","i":15,"x":6.0,"y":-11.3},{"r":"race5","m":"factored (8/8)","i":16,"x":7.8,"y":-10.8},{"r":"race5","m":"factored (8/8)","i":17,"x":8.7,"y":-9.6},{"r":"race5","m":"factored (8/8)","i":18,"x":9.2,"y":-7.6},{"r":"race5","m":"factored (8/8)","i":19,"x":9.9,"y":-5.5},{"r":"race5","m":"factored (8/8)","i":20,"x":10.3,"y":-4.8},{"r":"race5","m":"factored (8/8)","i":21,"x":11.9,"y":-4.5},{"r":"race5","m":"factored (8/8)","i":22,"x":13.7,"y":-4.45},{"r":"race5","m":"factored (8/8)","i":23,"x":14.9,"y":-4.8},{"r":"race5","m":"factored (8/8)","i":24,"x":15.5,"y":-6.0},{"r":"race5","m":"factored (8/8)","i":25,"x":16.5,"y":-6.9},{"r":"race5","m":"factored (8/8)","i":26,"x":17.8,"y":-7.25},{"r":"race5","m":"factored (8/8)","i":27,"x":19.2,"y":-7.1},{"r":"race5","m":"factored (8/8)","i":28,"x":20.3,"y":-7.0},
{"r":"race5","m":"oracle (8/8)","i":1,"x":26.9,"y":-0.75},{"r":"race5","m":"oracle (8/8)","i":2,"x":23.7,"y":-1.7},{"r":"race5","m":"oracle (8/8)","i":3,"x":21,"y":-2.4},{"r":"race5","m":"oracle (8/8)","i":4,"x":18.3,"y":-3.1},{"r":"race5","m":"oracle (8/8)","i":5,"x":15.5,"y":-4.0},{"r":"race5","m":"oracle (8/8)","i":6,"x":13.3,"y":-4.3},{"r":"race5","m":"oracle (8/8)","i":7,"x":10.1,"y":-4.45},{"r":"race5","m":"oracle (8/8)","i":8,"x":7.4,"y":-4.45},{"r":"race5","m":"oracle (8/8)","i":9,"x":5.0,"y":-4.3},{"r":"race5","m":"oracle (8/8)","i":10,"x":3.3,"y":-4.8},{"r":"race5","m":"oracle (8/8)","i":11,"x":2.5,"y":-6.5},{"r":"race5","m":"oracle (8/8)","i":12,"x":2.3,"y":-8.5},{"r":"race5","m":"oracle (8/8)","i":13,"x":2.9,"y":-10.4},{"r":"race5","m":"oracle (8/8)","i":14,"x":4.4,"y":-11.5},{"r":"race5","m":"oracle (8/8)","i":15,"x":6.0,"y":-11.8},{"r":"race5","m":"oracle (8/8)","i":16,"x":7.9,"y":-11.2},{"r":"race5","m":"oracle (8/8)","i":17,"x":9.0,"y":-9.8},{"r":"race5","m":"oracle (8/8)","i":18,"x":9.5,"y":-7.6},{"r":"race5","m":"oracle (8/8)","i":19,"x":10.0,"y":-5.4},{"r":"race5","m":"oracle (8/8)","i":20,"x":10.4,"y":-4.7},{"r":"race5","m":"oracle (8/8)","i":21,"x":11.9,"y":-4.35},{"r":"race5","m":"oracle (8/8)","i":22,"x":13.7,"y":-4.3},{"r":"race5","m":"oracle (8/8)","i":23,"x":15.1,"y":-4.7},{"r":"race5","m":"oracle (8/8)","i":24,"x":15.8,"y":-6.0},{"r":"race5","m":"oracle (8/8)","i":25,"x":16.8,"y":-6.9},{"r":"race5","m":"oracle (8/8)","i":26,"x":17.8,"y":-7.15},{"r":"race5","m":"oracle (8/8)","i":27,"x":19.2,"y":-7.0},{"r":"race5","m":"oracle (8/8)","i":28,"x":20.5,"y":-6.9}
],
"z":[
{"r":"race1","m":"expert","i":1,"x":26.9,"z":1.03},{"r":"race1","m":"expert","i":2,"x":-0.1,"z":1.03},
{"r":"race1","m":"baseline (0/8)","i":1,"x":26.8,"z":1.03},{"r":"race1","m":"baseline (0/8)","i":2,"x":27.0,"z":1.17},{"r":"race1","m":"baseline (0/8)","i":3,"x":26.7,"z":1.3},{"r":"race1","m":"baseline (0/8)","i":4,"x":26.4,"z":1.7},{"r":"race1","m":"baseline (0/8)","i":5,"x":26.1,"z":2.26},{"r":"race1","m":"baseline (0/8)","i":6,"x":25.1,"z":2.8},{"r":"race1","m":"baseline (0/8)","i":7,"x":23.3,"z":2.93},{"r":"race1","m":"baseline (0/8)","i":8,"x":19.6,"z":2.88},{"r":"race1","m":"baseline (0/8)","i":9,"x":16.4,"z":2.75},{"r":"race1","m":"baseline (0/8)","i":10,"x":14.1,"z":2.53},{"r":"race1","m":"baseline (0/8)","i":11,"x":11.8,"z":1.85},{"r":"race1","m":"baseline (0/8)","i":12,"x":9.95,"z":1.3},{"r":"race1","m":"baseline (0/8)","i":13,"x":9.0,"z":1.12},{"r":"race1","m":"baseline (0/8)","i":14,"x":6,"z":1.08},{"r":"race1","m":"baseline (0/8)","i":15,"x":3,"z":1.05},
{"r":"race1","m":"factored (8/8)","i":1,"x":26.9,"z":1.05},{"r":"race1","m":"factored (8/8)","i":2,"x":-0.1,"z":1.05},
{"r":"race1","m":"oracle (8/8)","i":1,"x":26.9,"z":1.03},{"r":"race1","m":"oracle (8/8)","i":2,"x":21,"z":1.03},{"r":"race1","m":"oracle (8/8)","i":3,"x":20.5,"z":1.18},{"r":"race1","m":"oracle (8/8)","i":4,"x":20,"z":1.03},{"r":"race1","m":"oracle (8/8)","i":5,"x":-0.15,"z":1.03},
{"r":"race4","m":"expert","i":1,"x":27,"z":1.03},{"r":"race4","m":"expert","i":2,"x":23,"z":1.03},{"r":"race4","m":"expert","i":3,"x":22.3,"z":1.0},{"r":"race4","m":"expert","i":4,"x":23,"z":1.96},{"r":"race4","m":"expert","i":5,"x":22.7,"z":2.7},{"r":"race4","m":"expert","i":6,"x":21.8,"z":3.07},{"r":"race4","m":"expert","i":7,"x":19,"z":2.9},{"r":"race4","m":"expert","i":8,"x":17.2,"z":2.2},{"r":"race4","m":"expert","i":9,"x":15.8,"z":1.4},{"r":"race4","m":"expert","i":10,"x":13.9,"z":0.9},{"r":"race4","m":"expert","i":11,"x":12.5,"z":1.03},{"r":"race4","m":"expert","i":12,"x":9.3,"z":1.14},{"r":"race4","m":"expert","i":13,"x":7.9,"z":1.96},{"r":"race4","m":"expert","i":14,"x":7.2,"z":2.5},{"r":"race4","m":"expert","i":15,"x":6.1,"z":2.8},{"r":"race4","m":"expert","i":16,"x":3.1,"z":3.34},{"r":"race4","m":"expert","i":17,"x":1.95,"z":3.2},{"r":"race4","m":"expert","i":18,"x":1.5,"z":2.94},{"r":"race4","m":"expert","i":19,"x":1.7,"z":1.96},{"r":"race4","m":"expert","i":20,"x":2.4,"z":1.14},{"r":"race4","m":"expert","i":21,"x":1.0,"z":1.03},{"r":"race4","m":"expert","i":22,"x":9.3,"z":1.03},
{"r":"race4","m":"baseline (0/8)","i":1,"x":27,"z":1.05},{"r":"race4","m":"baseline (0/8)","i":2,"x":-0.1,"z":1.08},{"r":"race4","m":"baseline (0/8)","i":3,"x":19.5,"z":1.05},{"r":"race4","m":"baseline (0/8)","i":4,"x":20.5,"z":0.95},{"r":"race4","m":"baseline (0/8)","i":5,"x":21.7,"z":1.0},{"r":"race4","m":"baseline (0/8)","i":6,"x":21.85,"z":1.5},{"r":"race4","m":"baseline (0/8)","i":7,"x":21.85,"z":2.6},{"r":"race4","m":"baseline (0/8)","i":8,"x":21.7,"z":3.08},{"r":"race4","m":"baseline (0/8)","i":9,"x":20.4,"z":3.1},
{"r":"race4","m":"factored (8/8)","i":1,"x":27,"z":1.03},{"r":"race4","m":"factored (8/8)","i":2,"x":20.9,"z":1.03},{"r":"race4","m":"factored (8/8)","i":3,"x":20.9,"z":1.5},{"r":"race4","m":"factored (8/8)","i":4,"x":20.9,"z":2.6},{"r":"race4","m":"factored (8/8)","i":5,"x":20.7,"z":3.2},{"r":"race4","m":"factored (8/8)","i":6,"x":20.1,"z":3.15},{"r":"race4","m":"factored (8/8)","i":7,"x":19.4,"z":2.95},{"r":"race4","m":"factored (8/8)","i":8,"x":17.6,"z":2.7},{"r":"race4","m":"factored (8/8)","i":9,"x":16.7,"z":2.4},{"r":"race4","m":"factored (8/8)","i":10,"x":16.0,"z":1.6},{"r":"race4","m":"factored (8/8)","i":11,"x":15.3,"z":1.1},{"r":"race4","m":"factored (8/8)","i":12,"x":14.5,"z":1.03},{"r":"race4","m":"factored (8/8)","i":13,"x":9.9,"z":1.05},{"r":"race4","m":"factored (8/8)","i":14,"x":9.3,"z":1.18},{"r":"race4","m":"factored (8/8)","i":15,"x":8.6,"z":1.72},{"r":"race4","m":"factored (8/8)","i":16,"x":7.7,"z":2.27},{"r":"race4","m":"factored (8/8)","i":17,"x":7.0,"z":2.67},{"r":"race4","m":"factored (8/8)","i":18,"x":5.5,"z":3.0},{"r":"race4","m":"factored (8/8)","i":19,"x":4.7,"z":3.25},{"r":"race4","m":"factored (8/8)","i":20,"x":3.6,"z":3.42},{"r":"race4","m":"factored (8/8)","i":21,"x":3.2,"z":3.35},{"r":"race4","m":"factored (8/8)","i":22,"x":3.1,"z":2.5},{"r":"race4","m":"factored (8/8)","i":23,"x":3.1,"z":1.5},{"r":"race4","m":"factored (8/8)","i":24,"x":3.3,"z":1.05},{"r":"race4","m":"factored (8/8)","i":25,"x":4.5,"z":0.97},{"r":"race4","m":"factored (8/8)","i":26,"x":6.5,"z":1.0},{"r":"race4","m":"factored (8/8)","i":27,"x":8,"z":1.03},{"r":"race4","m":"factored (8/8)","i":28,"x":1.0,"z":1.03},
{"r":"race4","m":"oracle (8/8)","i":1,"x":27,"z":1.03},{"r":"race4","m":"oracle (8/8)","i":2,"x":21.8,"z":1.0},{"r":"race4","m":"oracle (8/8)","i":3,"x":22.5,"z":1.4},{"r":"race4","m":"oracle (8/8)","i":4,"x":22.5,"z":2.5},{"r":"race4","m":"oracle (8/8)","i":5,"x":21.8,"z":3.08},{"r":"race4","m":"oracle (8/8)","i":6,"x":19.9,"z":3.08},{"r":"race4","m":"oracle (8/8)","i":7,"x":18.1,"z":2.8},{"r":"race4","m":"oracle (8/8)","i":8,"x":16.7,"z":2.0},{"r":"race4","m":"oracle (8/8)","i":9,"x":15.3,"z":0.95},{"r":"race4","m":"oracle (8/8)","i":10,"x":14,"z":1.03},{"r":"race4","m":"oracle (8/8)","i":11,"x":10,"z":1.05},{"r":"race4","m":"oracle (8/8)","i":12,"x":8.4,"z":1.7},{"r":"race4","m":"oracle (8/8)","i":13,"x":7.0,"z":2.4},{"r":"race4","m":"oracle (8/8)","i":14,"x":5.4,"z":2.3},{"r":"race4","m":"oracle (8/8)","i":15,"x":4.7,"z":2.6},{"r":"race4","m":"oracle (8/8)","i":16,"x":4.2,"z":3.1},{"r":"race4","m":"oracle (8/8)","i":17,"x":3.5,"z":3.5},{"r":"race4","m":"oracle (8/8)","i":18,"x":2.6,"z":3.5},{"r":"race4","m":"oracle (8/8)","i":19,"x":2.2,"z":3.1},{"r":"race4","m":"oracle (8/8)","i":20,"x":2.0,"z":2.3},{"r":"race4","m":"oracle (8/8)","i":21,"x":2.2,"z":1.1},{"r":"race4","m":"oracle (8/8)","i":22,"x":3,"z":1.0},{"r":"race4","m":"oracle (8/8)","i":23,"x":6,"z":1.03},{"r":"race4","m":"oracle (8/8)","i":24,"x":1.0,"z":1.03},
{"r":"race5","m":"expert","i":1,"x":26.9,"z":1.0},{"r":"race5","m":"expert","i":2,"x":5.5,"z":1.0},{"r":"race5","m":"expert","i":3,"x":3.5,"z":1.0},{"r":"race5","m":"expert","i":4,"x":2.9,"z":1.8},{"r":"race5","m":"expert","i":5,"x":3.1,"z":2.7},{"r":"race5","m":"expert","i":6,"x":4,"z":2.95},{"r":"race5","m":"expert","i":7,"x":8,"z":2.9},{"r":"race5","m":"expert","i":8,"x":9.3,"z":2.6},{"r":"race5","m":"expert","i":9,"x":9.7,"z":1.7},{"r":"race5","m":"expert","i":10,"x":10.2,"z":1.1},{"r":"race5","m":"expert","i":11,"x":11,"z":1.0},{"r":"race5","m":"expert","i":12,"x":19.5,"z":1.0},
{"r":"race5","m":"baseline (0/8)","i":1,"x":26.9,"z":1.02},{"r":"race5","m":"baseline (0/8)","i":2,"x":0.1,"z":1.1},{"r":"race5","m":"baseline (0/8)","i":3,"x":21.6,"z":1.1},{"r":"race5","m":"baseline (0/8)","i":4,"x":21.85,"z":1.6},{"r":"race5","m":"baseline (0/8)","i":5,"x":21.85,"z":2.5},{"r":"race5","m":"baseline (0/8)","i":6,"x":21.5,"z":3.1},{"r":"race5","m":"baseline (0/8)","i":7,"x":20.5,"z":3.05},{"r":"race5","m":"baseline (0/8)","i":8,"x":19.2,"z":2.95},
{"r":"race5","m":"factored (8/8)","i":1,"x":26.9,"z":1.0},{"r":"race5","m":"factored (8/8)","i":2,"x":5.5,"z":0.97},{"r":"race5","m":"factored (8/8)","i":3,"x":4.0,"z":0.95},{"r":"race5","m":"factored (8/8)","i":4,"x":3.2,"z":1.1},{"r":"race5","m":"factored (8/8)","i":5,"x":2.8,"z":2.0},{"r":"race5","m":"factored (8/8)","i":6,"x":2.9,"z":2.6},{"r":"race5","m":"factored (8/8)","i":7,"x":3.7,"z":2.94},{"r":"race5","m":"factored (8/8)","i":8,"x":5.5,"z":2.94},{"r":"race5","m":"factored (8/8)","i":9,"x":8.3,"z":2.9},{"r":"race5","m":"factored (8/8)","i":10,"x":9.0,"z":2.53},{"r":"race5","m":"factored (8/8)","i":11,"x":9.4,"z":1.71},{"r":"race5","m":"factored (8/8)","i":12,"x":9.9,"z":1.17},{"r":"race5","m":"factored (8/8)","i":13,"x":11,"z":1.02},{"r":"race5","m":"factored (8/8)","i":14,"x":20.3,"z":1.0},
{"r":"race5","m":"oracle (8/8)","i":1,"x":26.9,"z":1.0},{"r":"race5","m":"oracle (8/8)","i":2,"x":5.5,"z":0.97},{"r":"race5","m":"oracle (8/8)","i":3,"x":3.5,"z":1.0},{"r":"race5","m":"oracle (8/8)","i":4,"x":2.5,"z":1.6},{"r":"race5","m":"oracle (8/8)","i":5,"x":2.3,"z":2.2},{"r":"race5","m":"oracle (8/8)","i":6,"x":2.6,"z":2.7},{"r":"race5","m":"oracle (8/8)","i":7,"x":3.5,"z":2.95},{"r":"race5","m":"oracle (8/8)","i":8,"x":6,"z":2.9},{"r":"race5","m":"oracle (8/8)","i":9,"x":8.8,"z":2.85},{"r":"race5","m":"oracle (8/8)","i":10,"x":9.4,"z":2.4},{"r":"race5","m":"oracle (8/8)","i":11,"x":9.8,"z":1.7},{"r":"race5","m":"oracle (8/8)","i":12,"x":10.3,"z":1.1},{"r":"race5","m":"oracle (8/8)","i":13,"x":11,"z":1.0},{"r":"race5","m":"oracle (8/8)","i":14,"x":20.5,"z":1.0}
],
"speed":[
{"r":"race1","m":"expert","s":0,"v":0},{"r":"race1","m":"expert","s":1.9,"v":1.24},{"r":"race1","m":"expert","s":5.2,"v":2.3},{"r":"race1","m":"expert","s":10.9,"v":2.86},{"r":"race1","m":"expert","s":15.7,"v":2.86},{"r":"race1","m":"expert","s":22.2,"v":2.43},{"r":"race1","m":"expert","s":27.1,"v":2.76},{"r":"race1","m":"expert","s":31.9,"v":3.0},{"r":"race1","m":"expert","s":35.2,"v":2.6},{"r":"race1","m":"expert","s":40,"v":2.5},{"r":"race1","m":"expert","s":46.5,"v":2.5},{"r":"race1","m":"expert","s":54.6,"v":2.5},{"r":"race1","m":"expert","s":57.9,"v":2.6},{"r":"race1","m":"expert","s":59.5,"v":1.24},{"r":"race1","m":"expert","s":61.1,"v":2.6},{"r":"race1","m":"expert","s":69.2,"v":2.5},{"r":"race1","m":"expert","s":70.8,"v":1.8},{"r":"race1","m":"expert","s":72.4,"v":2.6},{"r":"race1","m":"expert","s":75.7,"v":2.3},{"r":"race1","m":"expert","s":78.9,"v":3.1},{"r":"race1","m":"expert","s":81.4,"v":1.5},{"r":"race1","m":"expert","s":82.2,"v":0.7},{"r":"race1","m":"expert","s":83,"v":2.86},{"r":"race1","m":"expert","s":85.4,"v":3.1},{"r":"race1","m":"expert","s":90.3,"v":2.3},{"r":"race1","m":"expert","s":91.9,"v":2.05},{"r":"race1","m":"expert","s":93.5,"v":2.6},{"r":"race1","m":"expert","s":95.1,"v":2.05},{"r":"race1","m":"expert","s":97.6,"v":0.97},{"r":"race1","m":"expert","s":99.2,"v":0},
{"r":"race1","m":"baseline (0/8)","s":0,"v":1.2},{"r":"race1","m":"baseline (0/8)","s":2.5,"v":2.4},{"r":"race1","m":"baseline (0/8)","s":4.5,"v":3.3},{"r":"race1","m":"baseline (0/8)","s":6.5,"v":4.3},{"r":"race1","m":"baseline (0/8)","s":8,"v":5.5},{"r":"race1","m":"baseline (0/8)","s":9.5,"v":7.5},{"r":"race1","m":"baseline (0/8)","s":11,"v":8.6},{"r":"race1","m":"baseline (0/8)","s":12.5,"v":9.1},{"r":"race1","m":"baseline (0/8)","s":14.5,"v":9.0},{"r":"race1","m":"baseline (0/8)","s":16.5,"v":8.8},{"r":"race1","m":"baseline (0/8)","s":18.5,"v":9.2},{"r":"race1","m":"baseline (0/8)","s":20.5,"v":9.5},{"r":"race1","m":"baseline (0/8)","s":21.8,"v":9.2},{"r":"race1","m":"baseline (0/8)","s":23.5,"v":7.2},{"r":"race1","m":"baseline (0/8)","s":25.5,"v":5.0},{"r":"race1","m":"baseline (0/8)","s":27.5,"v":3.0},{"r":"race1","m":"baseline (0/8)","s":30.3,"v":1.1},
{"r":"race1","m":"factored (8/8)","s":0,"v":0.97},{"r":"race1","m":"factored (8/8)","s":1.9,"v":2.05},{"r":"race1","m":"factored (8/8)","s":4.4,"v":2.7},{"r":"race1","m":"factored (8/8)","s":6.8,"v":3.24},{"r":"race1","m":"factored (8/8)","s":10.9,"v":3.5},{"r":"race1","m":"factored (8/8)","s":15.7,"v":3.68},{"r":"race1","m":"factored (8/8)","s":20.6,"v":3.4},{"r":"race1","m":"factored (8/8)","s":25.4,"v":2.97},{"r":"race1","m":"factored (8/8)","s":28.7,"v":3.4},{"r":"race1","m":"factored (8/8)","s":31.9,"v":3.8},{"r":"race1","m":"factored (8/8)","s":35.2,"v":3.1},{"r":"race1","m":"factored (8/8)","s":38.4,"v":3.24},{"r":"race1","m":"factored (8/8)","s":43.3,"v":3.1},{"r":"race1","m":"factored (8/8)","s":51.4,"v":3.1},{"r":"race1","m":"factored (8/8)","s":56.2,"v":3.1},{"r":"race1","m":"factored (8/8)","s":57,"v":3.7},{"r":"race1","m":"factored (8/8)","s":57.9,"v":2.9},{"r":"race1","m":"factored (8/8)","s":59.5,"v":3.95},{"r":"race1","m":"factored (8/8)","s":61.1,"v":3.4},{"r":"race1","m":"factored (8/8)","s":66,"v":3.1},{"r":"race1","m":"factored (8/8)","s":68.4,"v":2.6},{"r":"race1","m":"factored (8/8)","s":70.8,"v":3.4},{"r":"race1","m":"factored (8/8)","s":73.3,"v":3.1},{"r":"race1","m":"factored (8/8)","s":75.7,"v":3.7},{"r":"race1","m":"factored (8/8)","s":77.3,"v":3.1},{"r":"race1","m":"factored (8/8)","s":78.9,"v":3.95},{"r":"race1","m":"factored (8/8)","s":82.2,"v":3.68},{"r":"race1","m":"factored (8/8)","s":85.4,"v":3.1},{"r":"race1","m":"factored (8/8)","s":88.7,"v":3.1},{"r":"race1","m":"factored (8/8)","s":91.9,"v":1.7},{"r":"race1","m":"factored (8/8)","s":92.7,"v":1.24},
{"r":"race1","m":"oracle (8/8)","s":0,"v":1.2},{"r":"race1","m":"oracle (8/8)","s":2,"v":2.2},{"r":"race1","m":"oracle (8/8)","s":4.4,"v":2.8},{"r":"race1","m":"oracle (8/8)","s":6.8,"v":3.35},{"r":"race1","m":"oracle (8/8)","s":10.9,"v":3.6},{"r":"race1","m":"oracle (8/8)","s":15.7,"v":3.75},{"r":"race1","m":"oracle (8/8)","s":20.6,"v":3.5},{"r":"race1","m":"oracle (8/8)","s":25.4,"v":3.05},{"r":"race1","m":"oracle (8/8)","s":28.7,"v":3.5},{"r":"race1","m":"oracle (8/8)","s":31.9,"v":3.9},{"r":"race1","m":"oracle (8/8)","s":35.2,"v":3.2},{"r":"race1","m":"oracle (8/8)","s":38.4,"v":3.3},{"r":"race1","m":"oracle (8/8)","s":43.3,"v":3.2},{"r":"race1","m":"oracle (8/8)","s":51.4,"v":3.2},{"r":"race1","m":"oracle (8/8)","s":56.2,"v":3.2},{"r":"race1","m":"oracle (8/8)","s":57.5,"v":3.9},{"r":"race1","m":"oracle (8/8)","s":58.3,"v":3.0},{"r":"race1","m":"oracle (8/8)","s":59.5,"v":4.1},{"r":"race1","m":"oracle (8/8)","s":61.1,"v":3.5},{"r":"race1","m":"oracle (8/8)","s":66,"v":3.2},{"r":"race1","m":"oracle (8/8)","s":68.4,"v":2.7},{"r":"race1","m":"oracle (8/8)","s":70.8,"v":3.5},{"r":"race1","m":"oracle (8/8)","s":73.3,"v":3.2},{"r":"race1","m":"oracle (8/8)","s":74.5,"v":4.0},{"r":"race1","m":"oracle (8/8)","s":76,"v":3.3},{"r":"race1","m":"oracle (8/8)","s":77.3,"v":3.9},{"r":"race1","m":"oracle (8/8)","s":78.9,"v":3.5},{"r":"race1","m":"oracle (8/8)","s":80.5,"v":3.9},{"r":"race1","m":"oracle (8/8)","s":82.2,"v":3.6},{"r":"race1","m":"oracle (8/8)","s":83.8,"v":4.2},{"r":"race1","m":"oracle (8/8)","s":85.4,"v":3.3},{"r":"race1","m":"oracle (8/8)","s":88.7,"v":3.2},{"r":"race1","m":"oracle (8/8)","s":91.5,"v":2.3},{"r":"race1","m":"oracle (8/8)","s":93.5,"v":1.4},
{"r":"race4","m":"expert","s":0,"v":0},{"r":"race4","m":"expert","s":3.2,"v":1.41},{"r":"race4","m":"expert","s":7.6,"v":3.22},{"r":"race4","m":"expert","s":10.2,"v":3.55},{"r":"race4","m":"expert","s":15.5,"v":3.55},{"r":"race4","m":"expert","s":20.7,"v":3.22},{"r":"race4","m":"expert","s":24.3,"v":3.39},{"r":"race4","m":"expert","s":26,"v":2.4},{"r":"race4","m":"expert","s":26.9,"v":3.55},{"r":"race4","m":"expert","s":29.5,"v":3.06},{"r":"race4","m":"expert","s":31.2,"v":3.72},{"r":"race4","m":"expert","s":33.9,"v":2.73},{"r":"race4","m":"expert","s":36.6,"v":3.72},{"r":"race4","m":"expert","s":39.2,"v":2.73},{"r":"race4","m":"expert","s":41.8,"v":3.88},{"r":"race4","m":"expert","s":44.4,"v":2.9},{"r":"race4","m":"expert","s":47.1,"v":3.72},{"r":"race4","m":"expert","s":50.6,"v":2.9},{"r":"race4","m":"expert","s":54.1,"v":3.39},{"r":"race4","m":"expert","s":55,"v":2.07},{"r":"race4","m":"expert","s":57.6,"v":3.55},{"r":"race4","m":"expert","s":61.1,"v":2.9},{"r":"race4","m":"expert","s":64.7,"v":3.72},{"r":"race4","m":"expert","s":68.2,"v":3.06},{"r":"race4","m":"expert","s":71.7,"v":3.72},{"r":"race4","m":"expert","s":75.2,"v":3.22},{"r":"race4","m":"expert","s":77,"v":2.07},{"r":"race4","m":"expert","s":78.7,"v":3.72},{"r":"race4","m":"expert","s":82.2,"v":3.22},{"r":"race4","m":"expert","s":85.8,"v":3.55},{"r":"race4","m":"expert","s":89.3,"v":2.9},{"r":"race4","m":"expert","s":92.8,"v":3.72},{"r":"race4","m":"expert","s":96.3,"v":4.05},{"r":"race4","m":"expert","s":98.1,"v":3.72},{"r":"race4","m":"expert","s":101.6,"v":2.07},{"r":"race4","m":"expert","s":103.3,"v":1.41},{"r":"race4","m":"expert","s":106,"v":0.76},{"r":"race4","m":"expert","s":107.7,"v":0},
{"r":"race4","m":"baseline (0/8)","s":0,"v":1.09},{"r":"race4","m":"baseline (0/8)","s":3.2,"v":2.07},{"r":"race4","m":"baseline (0/8)","s":7.6,"v":3.22},{"r":"race4","m":"baseline (0/8)","s":11.9,"v":3.29},{"r":"race4","m":"baseline (0/8)","s":17.2,"v":3.13},{"r":"race4","m":"baseline (0/8)","s":20.7,"v":2.9},{"r":"race4","m":"baseline (0/8)","s":24.3,"v":2.57},{"r":"race4","m":"baseline (0/8)","s":27,"v":3.22},{"r":"race4","m":"baseline (0/8)","s":29.5,"v":3.45},{"r":"race4","m":"baseline (0/8)","s":33,"v":3.06},{"r":"race4","m":"baseline (0/8)","s":37.4,"v":2.9},{"r":"race4","m":"baseline (0/8)","s":45.3,"v":2.83},{"r":"race4","m":"baseline (0/8)","s":52.4,"v":2.9},{"r":"race4","m":"baseline (0/8)","s":55,"v":3.06},{"r":"race4","m":"baseline (0/8)","s":55.9,"v":2.24},{"r":"race4","m":"baseline (0/8)","s":56.8,"v":3.06},{"r":"race4","m":"baseline (0/8)","s":57.6,"v":2.07},{"r":"race4","m":"baseline (0/8)","s":58.4,"v":3.06},{"r":"race4","m":"baseline (0/8)","s":62.9,"v":3.06},{"r":"race4","m":"baseline (0/8)","s":69.9,"v":3.06},{"r":"race4","m":"baseline (0/8)","s":74.3,"v":3.22},{"r":"race4","m":"baseline (0/8)","s":76.9,"v":2.07},{"r":"race4","m":"baseline (0/8)","s":78.7,"v":3.39},{"r":"race4","m":"baseline (0/8)","s":82.2,"v":3.55},{"r":"race4","m":"baseline (0/8)","s":84,"v":2.9},{"r":"race4","m":"baseline (0/8)","s":87.5,"v":2.96},{"r":"race4","m":"baseline (0/8)","s":91,"v":3.13},{"r":"race4","m":"baseline (0/8)","s":94.6,"v":3.06},{"r":"race4","m":"baseline (0/8)","s":96.3,"v":2.07},{"r":"race4","m":"baseline (0/8)","s":98.1,"v":1.58},{"r":"race4","m":"baseline (0/8)","s":98.9,"v":1.41},
{"r":"race4","m":"factored (8/8)","s":0,"v":1.25},{"r":"race4","m":"factored (8/8)","s":4,"v":2.73},{"r":"race4","m":"factored (8/8)","s":8.4,"v":3.88},{"r":"race4","m":"factored (8/8)","s":11,"v":4.28},{"r":"race4","m":"factored (8/8)","s":15.5,"v":4.21},{"r":"race4","m":"factored (8/8)","s":20.7,"v":4.11},{"r":"race4","m":"factored (8/8)","s":23.4,"v":4.31},{"r":"race4","m":"factored (8/8)","s":25.1,"v":3.88},{"r":"race4","m":"factored (8/8)","s":27.4,"v":3.13},{"r":"race4","m":"factored (8/8)","s":29.5,"v":4.05},{"r":"race4","m":"factored (8/8)","s":31.2,"v":4.87},{"r":"race4","m":"factored (8/8)","s":33.9,"v":4.21},{"r":"race4","m":"factored (8/8)","s":38.3,"v":4.31},{"r":"race4","m":"factored (8/8)","s":41.8,"v":4.54},{"r":"race4","m":"factored (8/8)","s":45.3,"v":4.64},{"r":"race4","m":"factored (8/8)","s":47,"v":4.87},{"r":"race4","m":"factored (8/8)","s":49.6,"v":4.31},{"r":"race4","m":"factored (8/8)","s":50.5,"v":3.55},{"r":"race4","m":"factored (8/8)","s":52.4,"v":4.38},{"r":"race4","m":"factored (8/8)","s":57.6,"v":4.31},{"r":"race4","m":"factored (8/8)","s":59.4,"v":3.72},{"r":"race4","m":"factored (8/8)","s":62.9,"v":4.21},{"r":"race4","m":"factored (8/8)","s":68.2,"v":4.38},{"r":"race4","m":"factored (8/8)","s":71.7,"v":4.44},{"r":"race4","m":"factored (8/8)","s":73.4,"v":4.05},{"r":"race4","m":"factored (8/8)","s":77,"v":4.7},{"r":"race4","m":"factored (8/8)","s":78.7,"v":4.21},{"r":"race4","m":"factored (8/8)","s":80.5,"v":4.38},{"r":"race4","m":"factored (8/8)","s":84,"v":4.31},{"r":"race4","m":"factored (8/8)","s":87.5,"v":4.21},{"r":"race4","m":"factored (8/8)","s":91,"v":3.88},{"r":"race4","m":"factored (8/8)","s":93.7,"v":2.4},{"r":"race4","m":"factored (8/8)","s":95.4,"v":1.58},{"r":"race4","m":"factored (8/8)","s":96.3,"v":1.25},
{"r":"race4","m":"oracle (8/8)","s":0,"v":0.92},{"r":"race4","m":"oracle (8/8)","s":4,"v":2.8},{"r":"race4","m":"oracle (8/8)","s":7.6,"v":3.88},{"r":"race4","m":"oracle (8/8)","s":10.2,"v":4.54},{"r":"race4","m":"oracle (8/8)","s":14.6,"v":4.38},{"r":"race4","m":"oracle (8/8)","s":20.7,"v":4.21},{"r":"race4","m":"oracle (8/8)","s":23.4,"v":4.21},{"r":"race4","m":"oracle (8/8)","s":26,"v":3.55},{"r":"race4","m":"oracle (8/8)","s":27.8,"v":3.39},{"r":"race4","m":"oracle (8/8)","s":29.5,"v":4.54},{"r":"race4","m":"oracle (8/8)","s":31.2,"v":4.7},{"r":"race4","m":"oracle (8/8)","s":34.8,"v":4.54},{"r":"race4","m":"oracle (8/8)","s":40.1,"v":4.64},{"r":"race4","m":"oracle (8/8)","s":45.3,"v":4.44},{"r":"race4","m":"oracle (8/8)","s":48.8,"v":4.38},{"r":"race4","m":"oracle (8/8)","s":52.4,"v":4.05},{"r":"race4","m":"oracle (8/8)","s":55.9,"v":3.72},{"r":"race4","m":"oracle (8/8)","s":59.4,"v":3.55},{"r":"race4","m":"oracle (8/8)","s":62.9,"v":3.72},{"r":"race4","m":"oracle (8/8)","s":69.9,"v":3.78},{"r":"race4","m":"oracle (8/8)","s":75.2,"v":4.38},{"r":"race4","m":"oracle (8/8)","s":77.9,"v":5.69},{"r":"race4","m":"oracle (8/8)","s":78.7,"v":5.86},{"r":"race4","m":"oracle (8/8)","s":79.6,"v":4.7},{"r":"race4","m":"oracle (8/8)","s":82.2,"v":4.05},{"r":"race4","m":"oracle (8/8)","s":87.5,"v":4.05},{"r":"race4","m":"oracle (8/8)","s":91,"v":4.31},{"r":"race4","m":"oracle (8/8)","s":94.6,"v":4.11},{"r":"race4","m":"oracle (8/8)","s":96.3,"v":4.05},{"r":"race4","m":"oracle (8/8)","s":98.1,"v":3.22},{"r":"race4","m":"oracle (8/8)","s":99,"v":2.4},{"r":"race4","m":"oracle (8/8)","s":99.8,"v":1.58},{"r":"race4","m":"oracle (8/8)","s":101.6,"v":1.41},
{"r":"race5","m":"expert","s":0,"v":0},{"r":"race5","m":"expert","s":2.9,"v":1.32},{"r":"race5","m":"expert","s":6.2,"v":2.58},{"r":"race5","m":"expert","s":9.4,"v":4.0},{"r":"race5","m":"expert","s":14.3,"v":4.0},{"r":"race5","m":"expert","s":16.7,"v":3.21},{"r":"race5","m":"expert","s":18.4,"v":4.47},{"r":"race5","m":"expert","s":20,"v":4.63},{"r":"race5","m":"expert","s":22.4,"v":3.84},{"r":"race5","m":"expert","s":25.7,"v":4.16},{"r":"race5","m":"expert","s":28.9,"v":4.0},{"r":"race5","m":"expert","s":31.4,"v":4.47},{"r":"race5","m":"expert","s":33.8,"v":3.84},{"r":"race5","m":"expert","s":37.1,"v":4.0},{"r":"race5","m":"expert","s":40.3,"v":4.0},{"r":"race5","m":"expert","s":45.2,"v":3.69},{"r":"race5","m":"expert","s":47.6,"v":3.06},{"r":"race5","m":"expert","s":50.1,"v":1.95},{"r":"race5","m":"expert","s":52.5,"v":1.0},{"r":"race5","m":"expert","s":53.8,"v":0.22},
{"r":"race5","m":"baseline (0/8)","s":0,"v":1.0},{"r":"race5","m":"baseline (0/8)","s":2.9,"v":2.58},{"r":"race5","m":"baseline (0/8)","s":7,"v":3.37},{"r":"race5","m":"baseline (0/8)","s":11,"v":3.53},{"r":"race5","m":"baseline (0/8)","s":17.6,"v":3.46},{"r":"race5","m":"baseline (0/8)","s":20.8,"v":3.21},{"r":"race5","m":"baseline (0/8)","s":24.1,"v":2.96},{"r":"race5","m":"baseline (0/8)","s":27.3,"v":3.28},{"r":"race5","m":"baseline (0/8)","s":31.4,"v":3.78},{"r":"race5","m":"baseline (0/8)","s":33.8,"v":3.21},{"r":"race5","m":"baseline (0/8)","s":37.1,"v":3.28},{"r":"race5","m":"baseline (0/8)","s":40.3,"v":3.15},{"r":"race5","m":"baseline (0/8)","s":46.8,"v":3.28},{"r":"race5","m":"baseline (0/8)","s":53.3,"v":3.28},{"r":"race5","m":"baseline (0/8)","s":57.4,"v":3.31},{"r":"race5","m":"baseline (0/8)","s":58.2,"v":2.65},{"r":"race5","m":"baseline (0/8)","s":59,"v":3.53},{"r":"race5","m":"baseline (0/8)","s":63.1,"v":3.37},{"r":"race5","m":"baseline (0/8)","s":69.6,"v":3.37},{"r":"race5","m":"baseline (0/8)","s":72.8,"v":3.43},{"r":"race5","m":"baseline (0/8)","s":74.5,"v":3.53},{"r":"race5","m":"baseline (0/8)","s":77.7,"v":3.21},{"r":"race5","m":"baseline (0/8)","s":79,"v":2.27},{"r":"race5","m":"baseline (0/8)","s":80.2,"v":3.37},{"r":"race5","m":"baseline (0/8)","s":82.6,"v":4.0},{"r":"race5","m":"baseline (0/8)","s":84.2,"v":3.59},{"r":"race5","m":"baseline (0/8)","s":86.7,"v":3.21},{"r":"race5","m":"baseline (0/8)","s":90.7,"v":3.37},{"r":"race5","m":"baseline (0/8)","s":94,"v":3.37},{"r":"race5","m":"baseline (0/8)","s":95.6,"v":2.9},{"r":"race5","m":"baseline (0/8)","s":96.9,"v":1.64},{"r":"race5","m":"baseline (0/8)","s":97.6,"v":2.11},{"r":"race5","m":"baseline (0/8)","s":98.9,"v":1.64},{"r":"race5","m":"baseline (0/8)","s":99.7,"v":1.39},
{"r":"race5","m":"factored (8/8)","s":0,"v":1.17},{"r":"race5","m":"factored (8/8)","s":2.9,"v":2.27},{"r":"race5","m":"factored (8/8)","s":6.2,"v":3.37},{"r":"race5","m":"factored (8/8)","s":9.4,"v":4.54},{"r":"race5","m":"factored (8/8)","s":14.3,"v":4.54},{"r":"race5","m":"factored (8/8)","s":16.7,"v":4.31},{"r":"race5","m":"factored (8/8)","s":19.2,"v":5.26},{"r":"race5","m":"factored (8/8)","s":21.6,"v":4.94},{"r":"race5","m":"factored (8/8)","s":24.1,"v":4.41},{"r":"race5","m":"factored (8/8)","s":26.5,"v":4.79},{"r":"race5","m":"factored (8/8)","s":28.9,"v":4.85},{"r":"race5","m":"factored (8/8)","s":31.4,"v":5.1},{"r":"race5","m":"factored (8/8)","s":33.8,"v":4.63},{"r":"race5","m":"factored (8/8)","s":37.1,"v":4.85},{"r":"race5","m":"factored (8/8)","s":40.3,"v":4.72},{"r":"race5","m":"factored (8/8)","s":44.4,"v":4.63},{"r":"race5","m":"factored (8/8)","s":46.8,"v":4.31},{"r":"race5","m":"factored (8/8)","s":49.3,"v":3.37},{"r":"race5","m":"factored (8/8)","s":51.7,"v":2.43},{"r":"race5","m":"factored (8/8)","s":53.8,"v":1.39},
{"r":"race5","m":"oracle (8/8)","s":0,"v":1.32},{"r":"race5","m":"oracle (8/8)","s":5.4,"v":3.53},{"r":"race5","m":"oracle (8/8)","s":9.4,"v":4.72},{"r":"race5","m":"oracle (8/8)","s":15.1,"v":5.04},{"r":"race5","m":"oracle (8/8)","s":18.4,"v":5.1},{"r":"race5","m":"oracle (8/8)","s":21.6,"v":5.48},{"r":"race5","m":"oracle (8/8)","s":24.9,"v":4.94},{"r":"race5","m":"oracle (8/8)","s":28.9,"v":5.04},{"r":"race5","m":"oracle (8/8)","s":33,"v":5.48},{"r":"race5","m":"oracle (8/8)","s":37.1,"v":5.04},{"r":"race5","m":"oracle (8/8)","s":42,"v":4.94},{"r":"race5","m":"oracle (8/8)","s":46,"v":4.63},{"r":"race5","m":"oracle (8/8)","s":48.5,"v":4.0},{"r":"race5","m":"oracle (8/8)","s":50.9,"v":2.9},{"r":"race5","m":"oracle (8/8)","s":53.3,"v":1.95},{"r":"race5","m":"oracle (8/8)","s":54.6,"v":1.48}
],
"gates":[
{"r":"race1","g":"1","x":2.45,"y1":-2.2,"y2":0.0,"kind":"on"},{"r":"race1","g":"2","x":4.5,"y1":-12.3,"y2":-10.0,"kind":"on"},{"r":"race1","g":"3","x":19.6,"y1":-12.2,"y2":-9.8,"kind":"on"},{"r":"race1","g":"4","x":19.5,"y1":-7.0,"y2":-4.8,"kind":"off"},{"r":"race1","g":"5","x":12.9,"y1":-9.8,"y2":-7.4,"kind":"on"},{"r":"race1","g":"6","x":7.3,"y1":-5.7,"y2":-3.4,"kind":"on"},{"r":"race1","g":"7","x":12.9,"y1":-5.7,"y2":-3.4,"kind":"on"},
{"r":"race4","g":"1","x":2.5,"y1":-2.0,"y2":0.0,"kind":"on"},{"r":"race4","g":"2","x":7.5,"y1":-5.6,"y2":-3.5,"kind":"on"},{"r":"race4","g":"9","x":13.0,"y1":-5.6,"y2":-3.5,"kind":"on"},{"r":"race4","g":"3","x":13.0,"y1":-7.6,"y2":-5.6,"kind":"on"},{"r":"race4","g":"6","x":13.0,"y1":-9.6,"y2":-7.6,"kind":"on"},{"r":"race4","g":"7","x":4.6,"y1":-12.1,"y2":-10.1,"kind":"on"},{"r":"race4","g":"4","x":19.8,"y1":-10.1,"y2":-8.1,"kind":"on"},{"r":"race4","g":"10","x":19.8,"y1":-12.1,"y2":-10.1,"kind":"on"},
{"r":"race5","g":"3","x":7.4,"y1":-5.7,"y2":-3.4,"kind":"on"},{"r":"race5","g":"4","x":12.9,"y1":-5.6,"y2":-3.4,"kind":"on"},{"r":"race5","g":"5","x":19.5,"y1":-8.0,"y2":-5.8,"kind":"on"}
],
"zgates":[
{"r":"race1","x":2.45,"z1":0.22,"z2":1.9,"kind":"on"},{"r":"race1","x":4.5,"z1":0.22,"z2":1.9,"kind":"on"},{"r":"race1","x":4.5,"z1":1.9,"z2":3.8,"kind":"off"},{"r":"race1","x":7.3,"z1":0.22,"z2":1.9,"kind":"on"},{"r":"race1","x":12.9,"z1":0.22,"z2":1.9,"kind":"on"},{"r":"race1","x":19.55,"z1":0.22,"z2":1.9,"kind":"on"},{"r":"race1","x":19.55,"z1":1.9,"z2":3.8,"kind":"off"},
{"r":"race4","x":2.5,"z1":0.22,"z2":1.9,"kind":"on"},{"r":"race4","x":4.6,"z1":0.22,"z2":1.9,"kind":"on"},{"r":"race4","x":4.6,"z1":1.95,"z2":3.8,"kind":"on"},{"r":"race4","x":7.5,"z1":0.22,"z2":1.9,"kind":"on"},{"r":"race4","x":13.0,"z1":0.22,"z2":1.9,"kind":"on"},{"r":"race4","x":19.8,"z1":0.22,"z2":1.9,"kind":"on"},{"r":"race4","x":19.8,"z1":1.95,"z2":3.8,"kind":"on"},
{"r":"race5","x":4.55,"z1":2.0,"z2":3.8,"kind":"on"},{"r":"race5","x":7.4,"z1":0.22,"z2":1.9,"kind":"on"},{"r":"race5","x":12.8,"z1":0.22,"z2":1.9,"kind":"on"},{"r":"race5","x":19.5,"z1":0.22,"z2":1.9,"kind":"on"},{"r":"race5","x":19.5,"z1":1.9,"z2":3.8,"kind":"off"}
],
"zlabels":[
{"r":"race1","x":4.5,"z":1.07,"t":"D"},{"r":"race1","x":19.55,"z":1.07,"t":"D"},
{"r":"race4","x":4.6,"z":2.9,"t":"U"},{"r":"race4","x":4.6,"z":1.07,"t":"D"},{"r":"race4","x":19.8,"z":2.9,"t":"U"},
{"r":"race5","x":4.55,"z":2.93,"t":"U"},{"r":"race5","x":19.5,"z":1.1,"t":"D"}
]
},
"spacing":34,
"resolve":{"scale":{"color":"independent","strokeDash":"independent"},"legend":{"color":"independent","strokeDash":"independent"}},
"vconcat":[
{"hconcat":[
{"width":215,"height":100,"title":"race1_wide\u00a0 (held out)","layer":[
{"data":{"name":"xy"},"transform":[{"filter":"datum.r == 'race1' && datum.m == 'expert'"}],"mark":{"type":"line","strokeWidth":1},"encoding":{"x":{"field":"x","type":"quantitative","scale":{"domain":[-1.4,28.5],"nice":false,"zero":false},"axis":{"values":[0,5,10,15,20,25],"title":"X [m]"}},"y":{"field":"y","type":"quantitative","scale":{"domain":[-12.94,1.02],"nice":false,"zero":false},"axis":{"values":[-10,-5,0],"title":"Y [m]"}},"color":{"field":"m","type":"nominal","scale":{"domain":["expert","baseline (0/8)","factored (8/8)","oracle (8/8)"],"range":["#7f7f7f","#d62728","#1f77b4","#2ca02c"]},"legend":{"title":null,"orient":"none","legendX":137,"legendY":26,"symbolType":"M-1.5,0H1.5"}},"strokeDash":{"field":"m","type":"nominal","scale":{"domain":["expert","baseline (0/8)","factored (8/8)","oracle (8/8)"],"range":[[3.5,1.8],[1,0],[1,0],[1.4,2.4]]},"legend":{"title":null,"orient":"none","legendX":137,"legendY":26,"symbolType":"M-1.5,0H1.5"}},"order":{"field":"i","type":"quantitative"}}},
{"data":{"name":"xy"},"transform":[{"filter":"datum.r == 'race1' && datum.m != 'expert'"}],"mark":{"type":"line","strokeWidth":1.6},"encoding":{"x":{"field":"x","type":"quantitative"},"y":{"field":"y","type":"quantitative"},"color":{"field":"m","type":"nominal"},"strokeDash":{"field":"m","type":"nominal"},"order":{"field":"i","type":"quantitative"}}},
{"data":{"name":"gates"},"transform":[{"filter":"datum.r == 'race1'"}],"mark":{"type":"rule"},"encoding":{"x":{"field":"x","type":"quantitative"},"y":{"field":"y1","type":"quantitative"},"y2":{"field":"y2"},"color":{"condition":{"test":"datum.kind == 'off'","value":"#c8c8c8"},"value":"#555555"},"strokeWidth":{"condition":{"test":"datum.kind == 'off'","value":1.5},"value":2.5}}},
{"data":{"name":"gates"},"transform":[{"filter":"datum.r == 'race1'"}],"mark":{"type":"point","shape":"circle","filled":true,"fill":"white","stroke":"#777","strokeWidth":0.8,"size":68,"xOffset":5,"yOffset":2.5},"encoding":{"x":{"field":"x","type":"quantitative"},"y":{"field":"y2","type":"quantitative"},"opacity":{"condition":{"test":"datum.kind == 'off'","value":0.3},"value":1}}},
{"data":{"name":"gates"},"transform":[{"filter":"datum.r == 'race1'"}],"mark":{"type":"text","fontSize":7,"color":"#333","xOffset":5,"yOffset":2.8},"encoding":{"x":{"field":"x","type":"quantitative"},"y":{"field":"y2","type":"quantitative"},"text":{"field":"g"},"opacity":{"condition":{"test":"datum.kind == 'off'","value":0.3},"value":1}}}
]},
{"width":215,"height":100,"title":"race4_standard\u00a0 (held out)","layer":[
{"data":{"name":"xy"},"transform":[{"filter":"datum.r == 'race4' && datum.m == 'expert'"}],"mark":{"type":"line","strokeWidth":1},"encoding":{"x":{"field":"x","type":"quantitative","scale":{"domain":[-1.29,28.3],"nice":false,"zero":false},"axis":{"values":[0,5,10,15,20,25],"title":"X [m]"}},"y":{"field":"y","type":"quantitative","scale":{"domain":[-12.5,1.3],"nice":false,"zero":false},"axis":{"values":[-10,-5,0],"title":"Y [m]"}},"color":{"field":"m","type":"nominal","scale":{"domain":["expert","baseline (0/8)","factored (8/8)","oracle (8/8)"],"range":["#7f7f7f","#d62728","#1f77b4","#2ca02c"]},"legend":null},"strokeDash":{"field":"m","type":"nominal","scale":{"domain":["expert","baseline (0/8)","factored (8/8)","oracle (8/8)"],"range":[[3.5,1.8],[1,0],[1,0],[1.4,2.4]]},"legend":null},"order":{"field":"i","type":"quantitative"}}},
{"data":{"name":"xy"},"transform":[{"filter":"datum.r == 'race4' && datum.m != 'expert'"}],"mark":{"type":"line","strokeWidth":1.6},"encoding":{"x":{"field":"x","type":"quantitative"},"y":{"field":"y","type":"quantitative"},"color":{"field":"m","type":"nominal"},"strokeDash":{"field":"m","type":"nominal"},"order":{"field":"i","type":"quantitative"}}},
{"data":{"name":"gates"},"transform":[{"filter":"datum.r == 'race4'"}],"mark":{"type":"rule","strokeWidth":2.5,"color":"#555555"},"encoding":{"x":{"field":"x","type":"quantitative"},"y":{"field":"y1","type":"quantitative"},"y2":{"field":"y2"}}},
{"data":{"name":"gates"},"transform":[{"filter":"datum.r == 'race4'"}],"mark":{"type":"point","shape":"circle","filled":true,"fill":"white","stroke":"#777","strokeWidth":0.8,"size":68,"xOffset":5,"yOffset":2.5},"encoding":{"x":{"field":"x","type":"quantitative"},"y":{"field":"y2","type":"quantitative"}}},
{"data":{"name":"gates"},"transform":[{"filter":"datum.r == 'race4'"}],"mark":{"type":"text","fontSize":7,"color":"#333","xOffset":5,"yOffset":2.8},"encoding":{"x":{"field":"x","type":"quantitative"},"y":{"field":"y2","type":"quantitative"},"text":{"field":"g"}}}
]},
{"width":215,"height":100,"title":"race5_wide\u00a0 (held out)","layer":[
{"data":{"name":"xy"},"transform":[{"filter":"datum.r == 'race5' && datum.m == 'expert'"}],"mark":{"type":"line","strokeWidth":1},"encoding":{"x":{"field":"x","type":"quantitative","scale":{"domain":[-1.27,28.3],"nice":false,"zero":false},"axis":{"values":[0,5,10,15,20,25],"title":"X [m]"}},"y":{"field":"y","type":"quantitative","scale":{"domain":[-12.76,1.0],"nice":false,"zero":false},"axis":{"values":[-10,-5,0],"title":"Y [m]"}},"color":{"field":"m","type":"nominal","scale":{"domain":["expert","baseline (0/8)","factored (8/8)","oracle (8/8)"],"range":["#7f7f7f","#d62728","#1f77b4","#2ca02c"]},"legend":null},"strokeDash":{"field":"m","type":"nominal","scale":{"domain":["expert","baseline (0/8)","factored (8/8)","oracle (8/8)"],"range":[[3.5,1.8],[1,0],[1,0],[1.4,2.4]]},"legend":null},"order":{"field":"i","type":"quantitative"}}},
{"data":{"name":"xy"},"transform":[{"filter":"datum.r == 'race5' && datum.m != 'expert'"}],"mark":{"type":"line","strokeWidth":1.6},"encoding":{"x":{"field":"x","type":"quantitative"},"y":{"field":"y","type":"quantitative"},"color":{"field":"m","type":"nominal"},"strokeDash":{"field":"m","type":"nominal"},"order":{"field":"i","type":"quantitative"}}},
{"data":{"name":"gates"},"transform":[{"filter":"datum.r == 'race5'"}],"mark":{"type":"rule","strokeWidth":2.5,"color":"#555555"},"encoding":{"x":{"field":"x","type":"quantitative"},"y":{"field":"y1","type":"quantitative"},"y2":{"field":"y2"}}},
{"data":{"name":"gates"},"transform":[{"filter":"datum.r == 'race5'"}],"mark":{"type":"point","shape":"circle","filled":true,"fill":"white","stroke":"#777","strokeWidth":0.8,"size":68,"xOffset":5,"yOffset":2.5},"encoding":{"x":{"field":"x","type":"quantitative"},"y":{"field":"y2","type":"quantitative"}}},
{"data":{"name":"gates"},"transform":[{"filter":"datum.r == 'race5'"}],"mark":{"type":"text","fontSize":7,"color":"#333","xOffset":5,"yOffset":2.8},"encoding":{"x":{"field":"x","type":"quantitative"},"y":{"field":"y2","type":"quantitative"},"text":{"field":"g"}}}
]}
],"spacing":11,"resolve":{"scale":{"color":"independent","strokeDash":"independent"},"legend":{"color":"independent","strokeDash":"independent"}}},
{"vconcat":[
{"hconcat":[
{"width":215,"height":49,"layer":[
{"data":{"name":"z"},"transform":[{"filter":"datum.r == 'race1' && datum.m == 'expert'"}],"mark":{"type":"line","strokeWidth":1},"encoding":{"x":{"field":"x","type":"quantitative","scale":{"domain":[-1.4,28.5],"nice":false,"zero":false},"axis":{"values":[0,5,10,15,20,25],"labels":false,"title":null}},"y":{"field":"z","type":"quantitative","scale":{"domain":[0,4],"nice":false},"axis":{"values":[0,2,4],"title":"Z [m]"}},"color":{"field":"m","type":"nominal","scale":{"domain":["expert","baseline (0/8)","factored (8/8)","oracle (8/8)"],"range":["#7f7f7f","#d62728","#1f77b4","#2ca02c"]},"legend":null},"strokeDash":{"field":"m","type":"nominal","scale":{"domain":["expert","baseline (0/8)","factored (8/8)","oracle (8/8)"],"range":[[3.5,1.8],[1,0],[1,0],[1.4,2.4]]},"legend":null},"order":{"field":"i","type":"quantitative"}}},
{"data":{"name":"z"},"transform":[{"filter":"datum.r == 'race1' && datum.m != 'expert'"}],"mark":{"type":"line","strokeWidth":1.6},"encoding":{"x":{"field":"x","type":"quantitative"},"y":{"field":"z","type":"quantitative"},"color":{"field":"m","type":"nominal"},"strokeDash":{"field":"m","type":"nominal"},"order":{"field":"i","type":"quantitative"}}},
{"data":{"name":"zgates"},"transform":[{"filter":"datum.r == 'race1'"}],"mark":{"type":"rule"},"encoding":{"x":{"field":"x","type":"quantitative"},"y":{"field":"z1","type":"quantitative"},"y2":{"field":"z2"},"color":{"condition":{"test":"datum.kind == 'off'","value":"#d0d0d0"},"value":"#333333"},"strokeWidth":{"condition":{"test":"datum.kind == 'off'","value":1.2},"value":2.5}}},
{"data":{"name":"zlabels"},"transform":[{"filter":"datum.r == 'race1'"}],"mark":{"type":"point","shape":"square","filled":true,"fill":"white","stroke":"#888","strokeWidth":0.8,"size":50,"xOffset":6},"encoding":{"x":{"field":"x","type":"quantitative"},"y":{"field":"z","type":"quantitative"}}},
{"data":{"name":"zlabels"},"transform":[{"filter":"datum.r == 'race1'"}],"mark":{"type":"text","fontSize":6,"color":"#444","xOffset":6,"yOffset":0.5},"encoding":{"x":{"field":"x","type":"quantitative"},"y":{"field":"z","type":"quantitative"},"text":{"field":"t"}}}
]},
{"width":215,"height":49,"layer":[
{"data":{"name":"z"},"transform":[{"filter":"datum.r == 'race4' && datum.m == 'expert'"}],"mark":{"type":"line","strokeWidth":1},"encoding":{"x":{"field":"x","type":"quantitative","scale":{"domain":[-1.29,28.3],"nice":false,"zero":false},"axis":{"values":[0,5,10,15,20,25],"labels":false,"title":null}},"y":{"field":"z","type":"quantitative","scale":{"domain":[0,4],"nice":false},"axis":{"values":[0,2,4],"title":"Z [m]"}},"color":{"field":"m","type":"nominal","scale":{"domain":["expert","baseline (0/8)","factored (8/8)","oracle (8/8)"],"range":["#7f7f7f","#d62728","#1f77b4","#2ca02c"]},"legend":null},"strokeDash":{"field":"m","type":"nominal","scale":{"domain":["expert","baseline (0/8)","factored (8/8)","oracle (8/8)"],"range":[[3.5,1.8],[1,0],[1,0],[1.4,2.4]]},"legend":null},"order":{"field":"i","type":"quantitative"}}},
{"data":{"name":"z"},"transform":[{"filter":"datum.r == 'race4' && datum.m != 'expert'"}],"mark":{"type":"line","strokeWidth":1.6},"encoding":{"x":{"field":"x","type":"quantitative"},"y":{"field":"z","type":"quantitative"},"color":{"field":"m","type":"nominal"},"strokeDash":{"field":"m","type":"nominal"},"order":{"field":"i","type":"quantitative"}}},
{"data":{"name":"zgates"},"transform":[{"filter":"datum.r == 'race4'"}],"mark":{"type":"rule"},"encoding":{"x":{"field":"x","type":"quantitative"},"y":{"field":"z1","type":"quantitative"},"y2":{"field":"z2"},"color":{"condition":{"test":"datum.kind == 'off'","value":"#d0d0d0"},"value":"#333333"},"strokeWidth":{"condition":{"test":"datum.kind == 'off'","value":1.2},"value":2.5}}},
{"data":{"name":"zlabels"},"transform":[{"filter":"datum.r == 'race4'"}],"mark":{"type":"point","shape":"square","filled":true,"fill":"white","stroke":"#888","strokeWidth":0.8,"size":50,"xOffset":6},"encoding":{"x":{"field":"x","type":"quantitative"},"y":{"field":"z","type":"quantitative"}}},
{"data":{"name":"zlabels"},"transform":[{"filter":"datum.r == 'race4'"}],"mark":{"type":"text","fontSize":6,"color":"#444","xOffset":6,"yOffset":0.5},"encoding":{"x":{"field":"x","type":"quantitative"},"y":{"field":"z","type":"quantitative"},"text":{"field":"t"}}}
]},
{"width":215,"height":49,"layer":[
{"data":{"name":"z"},"transform":[{"filter":"datum.r == 'race5' && datum.m == 'expert'"}],"mark":{"type":"line","strokeWidth":1},"encoding":{"x":{"field":"x","type":"quantitative","scale":{"domain":[-1.27,28.3],"nice":false,"zero":false},"axis":{"values":[0,5,10,15,20,25],"labels":false,"title":null}},"y":{"field":"z","type":"quantitative","scale":{"domain":[0,4],"nice":false},"axis":{"values":[0,2,4],"title":"Z [m]"}},"color":{"field":"m","type":"nominal","scale":{"domain":["expert","baseline (0/8)","factored (8/8)","oracle (8/8)"],"range":["#7f7f7f","#d62728","#1f77b4","#2ca02c"]},"legend":null},"strokeDash":{"field":"m","type":"nominal","scale":{"domain":["expert","baseline (0/8)","factored (8/8)","oracle (8/8)"],"range":[[3.5,1.8],[1,0],[1,0],[1.4,2.4]]},"legend":null},"order":{"field":"i","type":"quantitative"}}},
{"data":{"name":"z"},"transform":[{"filter":"datum.r == 'race5' && datum.m != 'expert'"}],"mark":{"type":"line","strokeWidth":1.6},"encoding":{"x":{"field":"x","type":"quantitative"},"y":{"field":"z","type":"quantitative"},"color":{"field":"m","type":"nominal"},"strokeDash":{"field":"m","type":"nominal"},"order":{"field":"i","type":"quantitative"}}},
{"data":{"name":"zgates"},"transform":[{"filter":"datum.r == 'race5'"}],"mark":{"type":"rule"},"encoding":{"x":{"field":"x","type":"quantitative"},"y":{"field":"z1","type":"quantitative"},"y2":{"field":"z2"},"color":{"condition":{"test":"datum.kind == 'off'","value":"#d0d0d0"},"value":"#333333"},"strokeWidth":{"condition":{"test":"datum.kind == 'off'","value":1.2},"value":2.5}}},
{"data":{"name":"zlabels"},"transform":[{"filter":"datum.r == 'race5'"}],"mark":{"type":"point","shape":"square","filled":true,"fill":"white","stroke":"#888","strokeWidth":0.8,"size":50,"xOffset":6},"encoding":{"x":{"field":"x","type":"quantitative"},"y":{"field":"z","type":"quantitative"}}},
{"data":{"name":"zlabels"},"transform":[{"filter":"datum.r == 'race5'"}],"mark":{"type":"text","fontSize":6,"color":"#444","xOffset":6,"yOffset":0.5},"encoding":{"x":{"field":"x","type":"quantitative"},"y":{"field":"z","type":"quantitative"},"text":{"field":"t"}}}
]}
],"spacing":11,"resolve":{"scale":{"color":"independent","strokeDash":"independent"},"legend":{"color":"independent","strokeDash":"independent"}}},
{"hconcat":[
{"width":215,"height":62,"layer":[
{"data":{"name":"speed"},"transform":[{"filter":"datum.r == 'race1' && datum.m == 'expert'"}],"mark":{"type":"line","strokeWidth":1},"encoding":{"x":{"field":"s","type":"quantitative","scale":{"domain":[0,104.5],"nice":false,"zero":false},"axis":{"values":[0,20,40,60,80,100],"title":"Arc length [m]"}},"y":{"field":"v","type":"quantitative","scale":{"domain":[0,10],"nice":false},"axis":{"values":[0,5,10],"title":"Speed [m/s]"}},"color":{"field":"m","type":"nominal","scale":{"domain":["expert","baseline (0/8)","factored (8/8)","oracle (8/8)"],"range":["#7f7f7f","#d62728","#1f77b4","#2ca02c"]},"legend":null},"strokeDash":{"field":"m","type":"nominal","scale":{"domain":["expert","baseline (0/8)","factored (8/8)","oracle (8/8)"],"range":[[3.5,1.8],[1,0],[1,0],[1.4,2.4]]},"legend":null}}},
{"data":{"name":"speed"},"transform":[{"filter":"datum.r == 'race1' && datum.m != 'expert'"}],"mark":{"type":"line","strokeWidth":1.6},"encoding":{"x":{"field":"s","type":"quantitative"},"y":{"field":"v","type":"quantitative"},"color":{"field":"m","type":"nominal"},"strokeDash":{"field":"m","type":"nominal"}}}
]},
{"width":215,"height":62,"layer":[
{"data":{"name":"speed"},"transform":[{"filter":"datum.r == 'race4' && datum.m == 'expert'"}],"mark":{"type":"line","strokeWidth":1},"encoding":{"x":{"field":"s","type":"quantitative","scale":{"domain":[0,112.1],"nice":false,"zero":false},"axis":{"values":[0,20,40,60,80,100],"title":"Arc length [m]"}},"y":{"field":"v","type":"quantitative","scale":{"domain":[0,6.06],"nice":false},"axis":{"values":[0,2.5,5],"format":".1f","title":"Speed [m/s]"}},"color":{"field":"m","type":"nominal","scale":{"domain":["expert","baseline (0/8)","factored (8/8)","oracle (8/8)"],"range":["#7f7f7f","#d62728","#1f77b4","#2ca02c"]},"legend":null},"strokeDash":{"field":"m","type":"nominal","scale":{"domain":["expert","baseline (0/8)","factored (8/8)","oracle (8/8)"],"range":[[3.5,1.8],[1,0],[1,0],[1.4,2.4]]},"legend":null}}},
{"data":{"name":"speed"},"transform":[{"filter":"datum.r == 'race4' && datum.m != 'expert'"}],"mark":{"type":"line","strokeWidth":1.6},"encoding":{"x":{"field":"s","type":"quantitative"},"y":{"field":"v","type":"quantitative"},"color":{"field":"m","type":"nominal"},"strokeDash":{"field":"m","type":"nominal"}}}
]},
{"width":215,"height":62,"layer":[
{"data":{"name":"speed"},"transform":[{"filter":"datum.r == 'race5' && datum.m == 'expert'"}],"mark":{"type":"line","strokeWidth":1},"encoding":{"x":{"field":"s","type":"quantitative","scale":{"domain":[0,104.4],"nice":false,"zero":false},"axis":{"values":[0,20,40,60,80,100],"title":"Arc length [m]"}},"y":{"field":"v","type":"quantitative","scale":{"domain":[0,5.8],"nice":false},"axis":{"values":[0,2,4],"title":"Speed [m/s]"}},"color":{"field":"m","type":"nominal","scale":{"domain":["expert","baseline (0/8)","factored (8/8)","oracle (8/8)"],"range":["#7f7f7f","#d62728","#1f77b4","#2ca02c"]},"legend":null},"strokeDash":{"field":"m","type":"nominal","scale":{"domain":["expert","baseline (0/8)","factored (8/8)","oracle (8/8)"],"range":[[3.5,1.8],[1,0],[1,0],[1.4,2.4]]},"legend":null}}},
{"data":{"name":"speed"},"transform":[{"filter":"datum.r == 'race5' && datum.m != 'expert'"}],"mark":{"type":"line","strokeWidth":1.6},"encoding":{"x":{"field":"s","type":"quantitative"},"y":{"field":"v","type":"quantitative"},"color":{"field":"m","type":"nominal"},"strokeDash":{"field":"m","type":"nominal"}}}
]}
],"spacing":11,"resolve":{"scale":{"color":"independent","strokeDash":"independent"},"legend":{"color":"independent","strokeDash":"independent"}}}
],"spacing":16,"resolve":{"scale":{"color":"independent","strokeDash":"independent"},"legend":{"color":"independent","strokeDash":"independent"}}}
]
}
